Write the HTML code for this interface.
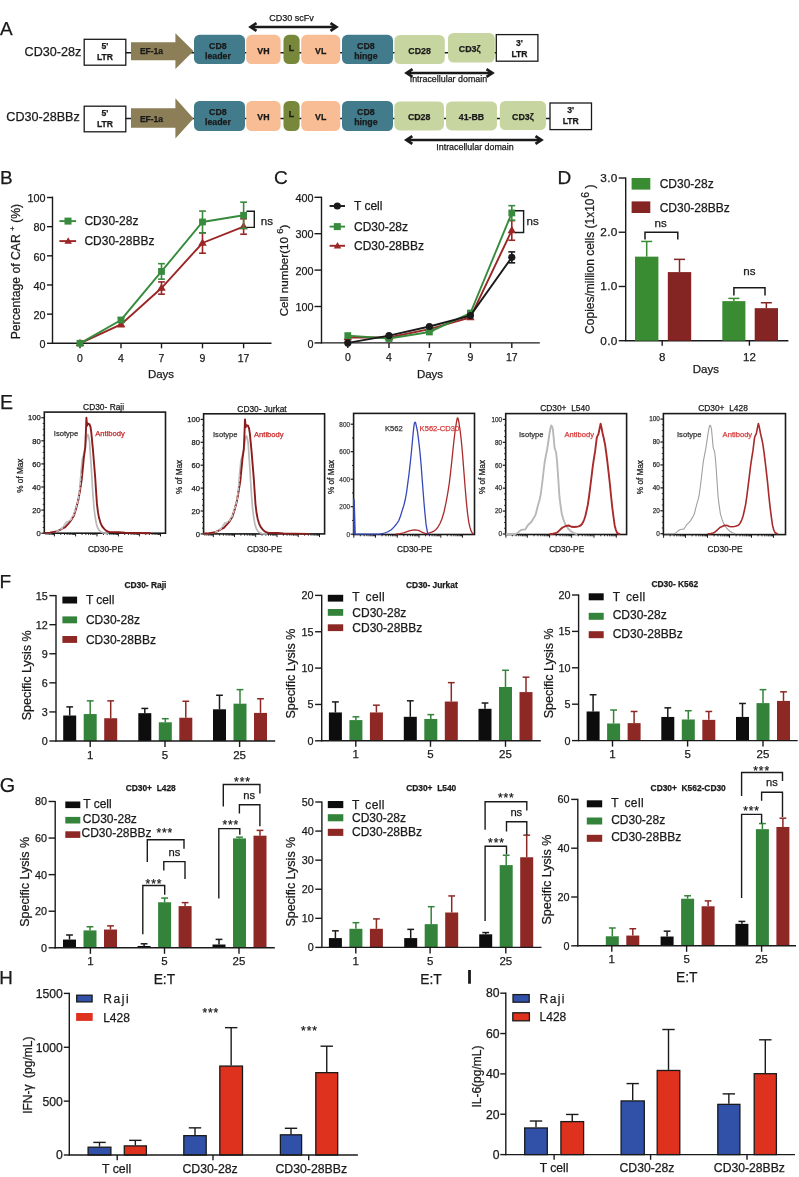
<!DOCTYPE html>
<html><head><meta charset="utf-8"><style>
html,body{margin:0;padding:0;background:#fff;}
svg{display:block;font-family:"Liberation Sans", sans-serif;-webkit-font-smoothing:antialiased;will-change:transform;}
</style></head><body>
<svg width="799" height="1177" viewBox="0 0 799 1177">
<rect width="799" height="1177" fill="#fff"/>
<text x="0.00" y="35.00" font-size="19" text-anchor="start" fill="#1a1a1a" stroke="#1a1a1a" stroke-width="0.25">A</text>
<text x="24.60" y="56.20" font-size="12.6" text-anchor="start" fill="#1a1a1a" stroke="#1a1a1a" stroke-width="0.25">CD30-28z</text>
<line x1="125.00" y1="52.80" x2="496.00" y2="52.80" stroke="#1a1a1a" stroke-width="1.5"/>
<rect x="84.20" y="39.30" width="41.60" height="25.90" fill="#fff" stroke="#1a1a1a" stroke-width="1.3"/>
<text x="105.00" y="49.05" font-size="8.6" text-anchor="middle" font-weight="bold" fill="#1a1a1a" stroke="#1a1a1a" stroke-width="0.25">5'</text>
<text x="105.00" y="60.05" font-size="8.6" text-anchor="middle" font-weight="bold" fill="#1a1a1a" stroke="#1a1a1a" stroke-width="0.25">LTR</text>
<path d="M131 42.30 L175.4 42.30 L175.4 33.30 L193.5 51.10 L175.4 68.90 L175.4 60.30 L131 60.30 Z" fill="#8c7e56" stroke="none" stroke-width="0"/>
<text x="151.50" y="54.40" font-size="8.5" text-anchor="middle" font-weight="bold" fill="#1a1a1a" stroke="#1a1a1a" stroke-width="0.25">EF-1a</text>
<rect x="194.00" y="34.80" width="51.00" height="29.30" fill="#417b8c" rx="5.5"/>
<text x="217.90" y="48.55" font-size="8.8" text-anchor="middle" font-weight="bold" fill="#1a1a1a" stroke="#1a1a1a" stroke-width="0.25">CD8</text>
<text x="217.90" y="58.85" font-size="8.8" text-anchor="middle" font-weight="bold" fill="#1a1a1a" stroke="#1a1a1a" stroke-width="0.25">leader</text>
<rect x="246.20" y="34.80" width="34.40" height="29.30" fill="#f8bd95" rx="5.5"/>
<text x="263.40" y="53.75" font-size="8.8" text-anchor="middle" font-weight="bold" fill="#1a1a1a" stroke="#1a1a1a" stroke-width="0.25">VH</text>
<rect x="283.50" y="34.80" width="16.10" height="29.30" fill="#77883b" rx="5.5"/>
<text x="291.55" y="50.75" font-size="8.8" text-anchor="middle" font-weight="bold" fill="#1a1a1a" stroke="#1a1a1a" stroke-width="0.25">L</text>
<rect x="301.20" y="34.80" width="39.00" height="29.30" fill="#f8bd95" rx="5.5"/>
<text x="320.70" y="53.75" font-size="8.8" text-anchor="middle" font-weight="bold" fill="#1a1a1a" stroke="#1a1a1a" stroke-width="0.25">VL</text>
<rect x="342.00" y="34.80" width="51.00" height="29.30" fill="#417b8c" rx="5.5"/>
<text x="365.90" y="48.55" font-size="8.8" text-anchor="middle" font-weight="bold" fill="#1a1a1a" stroke="#1a1a1a" stroke-width="0.25">CD8</text>
<text x="365.90" y="58.85" font-size="8.8" text-anchor="middle" font-weight="bold" fill="#1a1a1a" stroke="#1a1a1a" stroke-width="0.25">hinge</text>
<rect x="394.40" y="35.00" width="50.40" height="29.00" fill="#c7d6a1" rx="5.5"/>
<text x="419.60" y="53.80" font-size="8.8" text-anchor="middle" font-weight="bold" fill="#1a1a1a" stroke="#1a1a1a" stroke-width="0.25">CD28</text>
<rect x="448.00" y="33.00" width="46.80" height="29.60" fill="#c7d6a1" rx="5.5"/>
<text x="469.70" y="52.10" font-size="8.8" text-anchor="middle" font-weight="bold" fill="#1a1a1a" stroke="#1a1a1a" stroke-width="0.25">CD3ζ</text>
<rect x="496.30" y="34.60" width="41.60" height="26.60" fill="#fff" stroke="#1a1a1a" stroke-width="1.3"/>
<text x="519.50" y="46.10" font-size="8.6" text-anchor="middle" font-weight="bold" fill="#1a1a1a" stroke="#1a1a1a" stroke-width="0.25">3'</text>
<text x="519.50" y="57.10" font-size="8.6" text-anchor="middle" font-weight="bold" fill="#1a1a1a" stroke="#1a1a1a" stroke-width="0.25">LTR</text>
<line x1="252.00" y1="27.00" x2="335.00" y2="27.00" stroke="#1a1a1a" stroke-width="2.3"/>
<path d="M256.50 23.10 L250.60 27.00 L256.50 30.90" fill="none" stroke="#1a1a1a" stroke-width="2.7" stroke-linejoin="miter" stroke-linecap="butt"/>
<path d="M330.50 23.10 L336.40 27.00 L330.50 30.90" fill="none" stroke="#1a1a1a" stroke-width="2.7" stroke-linejoin="miter" stroke-linecap="butt"/>
<text x="291.50" y="20.70" font-size="9" text-anchor="middle" fill="#1a1a1a" stroke="#1a1a1a" stroke-width="0.25">CD30 scFv</text>
<line x1="408.00" y1="73.00" x2="491.00" y2="73.00" stroke="#1a1a1a" stroke-width="2.3"/>
<path d="M412.50 69.10 L406.60 73.00 L412.50 76.90" fill="none" stroke="#1a1a1a" stroke-width="2.7" stroke-linejoin="miter" stroke-linecap="butt"/>
<path d="M486.50 69.10 L492.40 73.00 L486.50 76.90" fill="none" stroke="#1a1a1a" stroke-width="2.7" stroke-linejoin="miter" stroke-linecap="butt"/>
<text x="448.40" y="82.20" font-size="8.9" text-anchor="middle" fill="#1a1a1a" stroke="#1a1a1a" stroke-width="0.25">Intracellular domain</text>
<text x="6.30" y="120.70" font-size="12.6" text-anchor="start" fill="#1a1a1a" stroke="#1a1a1a" stroke-width="0.25">CD30-28BBz</text>
<line x1="125.00" y1="118.50" x2="550.00" y2="118.50" stroke="#1a1a1a" stroke-width="1.5"/>
<rect x="84.20" y="106.20" width="41.60" height="25.60" fill="#fff" stroke="#1a1a1a" stroke-width="1.3"/>
<text x="105.00" y="115.80" font-size="8.6" text-anchor="middle" font-weight="bold" fill="#1a1a1a" stroke="#1a1a1a" stroke-width="0.25">5'</text>
<text x="105.00" y="126.80" font-size="8.6" text-anchor="middle" font-weight="bold" fill="#1a1a1a" stroke="#1a1a1a" stroke-width="0.25">LTR</text>
<path d="M131 108.20 L175.4 108.20 L175.4 98.30 L193.5 118.40 L175.4 138.50 L175.4 127.70 L131 127.70 Z" fill="#8c7e56" stroke="none" stroke-width="0"/>
<text x="151.50" y="121.70" font-size="8.5" text-anchor="middle" font-weight="bold" fill="#1a1a1a" stroke="#1a1a1a" stroke-width="0.25">EF-1a</text>
<rect x="194.00" y="101.00" width="51.00" height="30.00" fill="#417b8c" rx="5.5"/>
<text x="217.90" y="115.10" font-size="8.8" text-anchor="middle" font-weight="bold" fill="#1a1a1a" stroke="#1a1a1a" stroke-width="0.25">CD8</text>
<text x="217.90" y="125.40" font-size="8.8" text-anchor="middle" font-weight="bold" fill="#1a1a1a" stroke="#1a1a1a" stroke-width="0.25">leader</text>
<rect x="246.20" y="101.00" width="34.40" height="30.00" fill="#f8bd95" rx="5.5"/>
<text x="263.40" y="120.30" font-size="8.8" text-anchor="middle" font-weight="bold" fill="#1a1a1a" stroke="#1a1a1a" stroke-width="0.25">VH</text>
<rect x="283.50" y="101.00" width="16.10" height="30.00" fill="#77883b" rx="5.5"/>
<text x="291.55" y="117.30" font-size="8.8" text-anchor="middle" font-weight="bold" fill="#1a1a1a" stroke="#1a1a1a" stroke-width="0.25">L</text>
<rect x="301.20" y="101.00" width="39.00" height="30.00" fill="#f8bd95" rx="5.5"/>
<text x="320.70" y="120.30" font-size="8.8" text-anchor="middle" font-weight="bold" fill="#1a1a1a" stroke="#1a1a1a" stroke-width="0.25">VL</text>
<rect x="342.00" y="101.00" width="51.00" height="30.00" fill="#417b8c" rx="5.5"/>
<text x="365.90" y="115.10" font-size="8.8" text-anchor="middle" font-weight="bold" fill="#1a1a1a" stroke="#1a1a1a" stroke-width="0.25">CD8</text>
<text x="365.90" y="125.40" font-size="8.8" text-anchor="middle" font-weight="bold" fill="#1a1a1a" stroke="#1a1a1a" stroke-width="0.25">hinge</text>
<rect x="394.30" y="101.50" width="49.70" height="28.90" fill="#c7d6a1" rx="5.5"/>
<text x="419.15" y="120.25" font-size="8.8" text-anchor="middle" font-weight="bold" fill="#1a1a1a" stroke="#1a1a1a" stroke-width="0.25">CD28</text>
<rect x="446.00" y="101.50" width="51.00" height="28.90" fill="#c7d6a1" rx="5.5"/>
<text x="471.50" y="120.25" font-size="8.8" text-anchor="middle" font-weight="bold" fill="#1a1a1a" stroke="#1a1a1a" stroke-width="0.25">41-BB</text>
<rect x="499.80" y="101.00" width="46.20" height="29.00" fill="#c7d6a1" rx="5.5"/>
<text x="522.90" y="119.80" font-size="8.8" text-anchor="middle" font-weight="bold" fill="#1a1a1a" stroke="#1a1a1a" stroke-width="0.25">CD3ζ</text>
<rect x="550.00" y="103.00" width="41.50" height="26.60" fill="#fff" stroke="#1a1a1a" stroke-width="1.3"/>
<text x="570.75" y="113.10" font-size="8.6" text-anchor="middle" font-weight="bold" fill="#1a1a1a" stroke="#1a1a1a" stroke-width="0.25">3'</text>
<text x="570.75" y="124.10" font-size="8.6" text-anchor="middle" font-weight="bold" fill="#1a1a1a" stroke="#1a1a1a" stroke-width="0.25">LTR</text>
<line x1="407.80" y1="140.00" x2="540.00" y2="140.00" stroke="#1a1a1a" stroke-width="2.3"/>
<path d="M412.30 136.10 L406.40 140.00 L412.30 143.90" fill="none" stroke="#1a1a1a" stroke-width="2.7" stroke-linejoin="miter" stroke-linecap="butt"/>
<path d="M535.50 136.10 L541.40 140.00 L535.50 143.90" fill="none" stroke="#1a1a1a" stroke-width="2.7" stroke-linejoin="miter" stroke-linecap="butt"/>
<text x="475.00" y="149.80" font-size="8.9" text-anchor="middle" fill="#1a1a1a" stroke="#1a1a1a" stroke-width="0.25">Intracellular domain</text>
<text x="0.00" y="184.00" font-size="19" text-anchor="start" fill="#1a1a1a" stroke="#1a1a1a" stroke-width="0.25">B</text>
<line x1="52.50" y1="196.60" x2="52.50" y2="343.90" stroke="#1a1a1a" stroke-width="1.4"/>
<line x1="47.00" y1="343.30" x2="52.50" y2="343.30" stroke="#1a1a1a" stroke-width="1.4"/>
<text x="45.50" y="347.99" font-size="10.8" text-anchor="end" fill="#1a1a1a" stroke="#1a1a1a" stroke-width="0.25">0</text>
<line x1="47.00" y1="314.14" x2="52.50" y2="314.14" stroke="#1a1a1a" stroke-width="1.4"/>
<text x="45.50" y="318.83" font-size="10.8" text-anchor="end" fill="#1a1a1a" stroke="#1a1a1a" stroke-width="0.25">20</text>
<line x1="47.00" y1="284.98" x2="52.50" y2="284.98" stroke="#1a1a1a" stroke-width="1.4"/>
<text x="45.50" y="289.67" font-size="10.8" text-anchor="end" fill="#1a1a1a" stroke="#1a1a1a" stroke-width="0.25">40</text>
<line x1="47.00" y1="255.82" x2="52.50" y2="255.82" stroke="#1a1a1a" stroke-width="1.4"/>
<text x="45.50" y="260.51" font-size="10.8" text-anchor="end" fill="#1a1a1a" stroke="#1a1a1a" stroke-width="0.25">60</text>
<line x1="47.00" y1="226.66" x2="52.50" y2="226.66" stroke="#1a1a1a" stroke-width="1.4"/>
<text x="45.50" y="231.35" font-size="10.8" text-anchor="end" fill="#1a1a1a" stroke="#1a1a1a" stroke-width="0.25">80</text>
<line x1="47.00" y1="197.50" x2="52.50" y2="197.50" stroke="#1a1a1a" stroke-width="1.4"/>
<text x="45.50" y="202.19" font-size="10.8" text-anchor="end" fill="#1a1a1a" stroke="#1a1a1a" stroke-width="0.25">100</text>
<line x1="51.90" y1="343.30" x2="271.50" y2="343.30" stroke="#1a1a1a" stroke-width="1.4"/>
<line x1="80.00" y1="343.30" x2="80.00" y2="348.30" stroke="#1a1a1a" stroke-width="1.4"/>
<text x="80.00" y="361.80" font-size="10.5" text-anchor="middle" fill="#1a1a1a" stroke="#1a1a1a" stroke-width="0.25">0</text>
<line x1="121.00" y1="343.30" x2="121.00" y2="348.30" stroke="#1a1a1a" stroke-width="1.4"/>
<text x="121.00" y="361.80" font-size="10.5" text-anchor="middle" fill="#1a1a1a" stroke="#1a1a1a" stroke-width="0.25">4</text>
<line x1="161.50" y1="343.30" x2="161.50" y2="348.30" stroke="#1a1a1a" stroke-width="1.4"/>
<text x="161.50" y="361.80" font-size="10.5" text-anchor="middle" fill="#1a1a1a" stroke="#1a1a1a" stroke-width="0.25">7</text>
<line x1="202.50" y1="343.30" x2="202.50" y2="348.30" stroke="#1a1a1a" stroke-width="1.4"/>
<text x="202.50" y="361.80" font-size="10.5" text-anchor="middle" fill="#1a1a1a" stroke="#1a1a1a" stroke-width="0.25">9</text>
<line x1="243.60" y1="343.30" x2="243.60" y2="348.30" stroke="#1a1a1a" stroke-width="1.4"/>
<text x="243.60" y="361.80" font-size="10.5" text-anchor="middle" fill="#1a1a1a" stroke="#1a1a1a" stroke-width="0.25">17</text>
<text x="161.00" y="377.50" font-size="11.5" text-anchor="middle" fill="#1a1a1a" stroke="#1a1a1a" stroke-width="0.25">Days</text>
<text x="0" y="0" font-size="12.2" text-anchor="middle" fill="#1a1a1a" stroke="#1a1a1a" stroke-width="0.25" transform="translate(19.8 271.6) rotate(-90)" style="white-space:pre">Percentage of CAR <tspan font-size="8" dy="-5">+</tspan><tspan dy="5"> (%)</tspan></text>
<path d="M80.00 343.30 L121.00 324.35 L161.50 288.04 L202.50 242.99 L243.60 226.51" fill="none" stroke="#9a2626" stroke-width="1.9"/>
<line x1="121.00" y1="324.35" x2="121.00" y2="326.53" stroke="#9a2626" stroke-width="1.6"/>
<line x1="117.60" y1="326.53" x2="124.40" y2="326.53" stroke="#9a2626" stroke-width="1.6"/>
<line x1="121.00" y1="324.35" x2="121.00" y2="322.16" stroke="#9a2626" stroke-width="1.6"/>
<line x1="117.60" y1="322.16" x2="124.40" y2="322.16" stroke="#9a2626" stroke-width="1.6"/>
<line x1="161.50" y1="288.04" x2="161.50" y2="294.17" stroke="#9a2626" stroke-width="1.6"/>
<line x1="158.10" y1="294.17" x2="164.90" y2="294.17" stroke="#9a2626" stroke-width="1.6"/>
<line x1="161.50" y1="288.04" x2="161.50" y2="281.92" stroke="#9a2626" stroke-width="1.6"/>
<line x1="158.10" y1="281.92" x2="164.90" y2="281.92" stroke="#9a2626" stroke-width="1.6"/>
<line x1="202.50" y1="242.99" x2="202.50" y2="253.20" stroke="#9a2626" stroke-width="1.6"/>
<line x1="199.10" y1="253.20" x2="205.90" y2="253.20" stroke="#9a2626" stroke-width="1.6"/>
<line x1="202.50" y1="242.99" x2="202.50" y2="232.78" stroke="#9a2626" stroke-width="1.6"/>
<line x1="199.10" y1="232.78" x2="205.90" y2="232.78" stroke="#9a2626" stroke-width="1.6"/>
<line x1="243.60" y1="226.51" x2="243.60" y2="234.24" stroke="#9a2626" stroke-width="1.6"/>
<line x1="240.20" y1="234.24" x2="247.00" y2="234.24" stroke="#9a2626" stroke-width="1.6"/>
<line x1="243.60" y1="226.51" x2="243.60" y2="218.79" stroke="#9a2626" stroke-width="1.6"/>
<line x1="240.20" y1="218.79" x2="247.00" y2="218.79" stroke="#9a2626" stroke-width="1.6"/>
<path d="M80.00 338.72 L84.25 346.11 L75.75 346.11 Z" fill="#9a2626" stroke="none" stroke-width="0"/>
<path d="M121.00 319.76 L125.25 327.16 L116.75 327.16 Z" fill="#9a2626" stroke="none" stroke-width="0"/>
<path d="M161.50 283.46 L165.75 290.85 L157.25 290.85 Z" fill="#9a2626" stroke="none" stroke-width="0"/>
<path d="M202.50 238.40 L206.75 245.80 L198.25 245.80 Z" fill="#9a2626" stroke="none" stroke-width="0"/>
<path d="M243.60 221.93 L247.85 229.32 L239.35 229.32 Z" fill="#9a2626" stroke="none" stroke-width="0"/>
<path d="M80.00 343.30 L121.00 319.97 L161.50 271.42 L202.50 221.99 L243.60 215.29" fill="none" stroke="#388a3d" stroke-width="1.9"/>
<line x1="121.00" y1="319.97" x2="121.00" y2="322.16" stroke="#388a3d" stroke-width="1.6"/>
<line x1="117.60" y1="322.16" x2="124.40" y2="322.16" stroke="#388a3d" stroke-width="1.6"/>
<line x1="121.00" y1="319.97" x2="121.00" y2="317.79" stroke="#388a3d" stroke-width="1.6"/>
<line x1="117.60" y1="317.79" x2="124.40" y2="317.79" stroke="#388a3d" stroke-width="1.6"/>
<line x1="161.50" y1="271.42" x2="161.50" y2="279.15" stroke="#388a3d" stroke-width="1.6"/>
<line x1="158.10" y1="279.15" x2="164.90" y2="279.15" stroke="#388a3d" stroke-width="1.6"/>
<line x1="161.50" y1="271.42" x2="161.50" y2="263.69" stroke="#388a3d" stroke-width="1.6"/>
<line x1="158.10" y1="263.69" x2="164.90" y2="263.69" stroke="#388a3d" stroke-width="1.6"/>
<line x1="202.50" y1="221.99" x2="202.50" y2="232.93" stroke="#388a3d" stroke-width="1.6"/>
<line x1="199.10" y1="232.93" x2="205.90" y2="232.93" stroke="#388a3d" stroke-width="1.6"/>
<line x1="202.50" y1="221.99" x2="202.50" y2="211.06" stroke="#388a3d" stroke-width="1.6"/>
<line x1="199.10" y1="211.06" x2="205.90" y2="211.06" stroke="#388a3d" stroke-width="1.6"/>
<line x1="243.60" y1="215.29" x2="243.60" y2="228.41" stroke="#388a3d" stroke-width="1.6"/>
<line x1="240.20" y1="228.41" x2="247.00" y2="228.41" stroke="#388a3d" stroke-width="1.6"/>
<line x1="243.60" y1="215.29" x2="243.60" y2="202.17" stroke="#388a3d" stroke-width="1.6"/>
<line x1="240.20" y1="202.17" x2="247.00" y2="202.17" stroke="#388a3d" stroke-width="1.6"/>
<rect x="76.60" y="339.90" width="6.80" height="6.80" fill="#388a3d"/>
<rect x="117.60" y="316.57" width="6.80" height="6.80" fill="#388a3d"/>
<rect x="158.10" y="268.02" width="6.80" height="6.80" fill="#388a3d"/>
<rect x="199.10" y="218.59" width="6.80" height="6.80" fill="#388a3d"/>
<rect x="240.20" y="211.89" width="6.80" height="6.80" fill="#388a3d"/>
<path d="M246.5 211.3 L254.3 211.3 L254.3 227.4 L246.5 227.4" fill="none" stroke="#1a1a1a" stroke-width="1.4"/>
<text x="260.80" y="224.70" font-size="11.6" text-anchor="start" fill="#1a1a1a" stroke="#1a1a1a" stroke-width="0.25">ns</text>
<line x1="59.40" y1="221.10" x2="76.10" y2="221.10" stroke="#388a3d" stroke-width="1.9"/>
<rect x="64.50" y="217.60" width="7.00" height="7.00" fill="#388a3d"/>
<text x="84.40" y="225.30" font-size="12" text-anchor="start" fill="#1a1a1a" stroke="#1a1a1a" stroke-width="0.25">CD30-28z</text>
<line x1="59.40" y1="241.10" x2="76.10" y2="241.10" stroke="#9a2626" stroke-width="1.9"/>
<path d="M68.20 237.25 L71.95 243.78 L64.45 243.78 Z" fill="#9a2626" stroke="none" stroke-width="0"/>
<text x="84.40" y="245.30" font-size="12" text-anchor="start" fill="#1a1a1a" stroke="#1a1a1a" stroke-width="0.25">CD30-28BBz</text>
<text x="274.00" y="184.00" font-size="19" text-anchor="start" fill="#1a1a1a" stroke="#1a1a1a" stroke-width="0.25">C</text>
<line x1="321.50" y1="196.70" x2="321.50" y2="343.50" stroke="#1a1a1a" stroke-width="1.4"/>
<line x1="314.50" y1="342.90" x2="321.50" y2="342.90" stroke="#1a1a1a" stroke-width="1.4"/>
<text x="313.40" y="347.59" font-size="10.8" text-anchor="end" fill="#1a1a1a" stroke="#1a1a1a" stroke-width="0.25">0</text>
<line x1="314.50" y1="306.50" x2="321.50" y2="306.50" stroke="#1a1a1a" stroke-width="1.4"/>
<text x="313.40" y="311.19" font-size="10.8" text-anchor="end" fill="#1a1a1a" stroke="#1a1a1a" stroke-width="0.25">100</text>
<line x1="314.50" y1="270.10" x2="321.50" y2="270.10" stroke="#1a1a1a" stroke-width="1.4"/>
<text x="313.40" y="274.79" font-size="10.8" text-anchor="end" fill="#1a1a1a" stroke="#1a1a1a" stroke-width="0.25">200</text>
<line x1="314.50" y1="233.70" x2="321.50" y2="233.70" stroke="#1a1a1a" stroke-width="1.4"/>
<text x="313.40" y="238.39" font-size="10.8" text-anchor="end" fill="#1a1a1a" stroke="#1a1a1a" stroke-width="0.25">300</text>
<line x1="314.50" y1="197.30" x2="321.50" y2="197.30" stroke="#1a1a1a" stroke-width="1.4"/>
<text x="313.40" y="201.99" font-size="10.8" text-anchor="end" fill="#1a1a1a" stroke="#1a1a1a" stroke-width="0.25">400</text>
<line x1="320.90" y1="342.90" x2="539.80" y2="342.90" stroke="#1a1a1a" stroke-width="1.4"/>
<line x1="347.80" y1="342.90" x2="347.80" y2="347.90" stroke="#1a1a1a" stroke-width="1.4"/>
<text x="347.80" y="361.40" font-size="10.5" text-anchor="middle" fill="#1a1a1a" stroke="#1a1a1a" stroke-width="0.25">0</text>
<line x1="389.00" y1="342.90" x2="389.00" y2="347.90" stroke="#1a1a1a" stroke-width="1.4"/>
<text x="389.00" y="361.40" font-size="10.5" text-anchor="middle" fill="#1a1a1a" stroke="#1a1a1a" stroke-width="0.25">4</text>
<line x1="429.40" y1="342.90" x2="429.40" y2="347.90" stroke="#1a1a1a" stroke-width="1.4"/>
<text x="429.40" y="361.40" font-size="10.5" text-anchor="middle" fill="#1a1a1a" stroke="#1a1a1a" stroke-width="0.25">7</text>
<line x1="470.40" y1="342.90" x2="470.40" y2="347.90" stroke="#1a1a1a" stroke-width="1.4"/>
<text x="470.40" y="361.40" font-size="10.5" text-anchor="middle" fill="#1a1a1a" stroke="#1a1a1a" stroke-width="0.25">9</text>
<line x1="511.80" y1="342.90" x2="511.80" y2="347.90" stroke="#1a1a1a" stroke-width="1.4"/>
<text x="511.80" y="361.40" font-size="10.5" text-anchor="middle" fill="#1a1a1a" stroke="#1a1a1a" stroke-width="0.25">17</text>
<text x="430.00" y="377.50" font-size="11.5" text-anchor="middle" fill="#1a1a1a" stroke="#1a1a1a" stroke-width="0.25">Days</text>
<text x="0" y="0" font-size="11.6" text-anchor="middle" fill="#1a1a1a" stroke="#1a1a1a" stroke-width="0.25" transform="translate(288 270.5) rotate(-90)" style="white-space:pre">Cell number(10 <tspan font-size="9.5" dy="-5.5">6</tspan><tspan dy="5.5">)</tspan></text>
<path d="M347.80 337.44 L389.00 337.44 L429.40 329.07 L470.40 317.42 L511.80 230.42" fill="none" stroke="#9a2626" stroke-width="1.9"/>
<line x1="511.80" y1="230.42" x2="511.80" y2="240.25" stroke="#9a2626" stroke-width="1.6"/>
<line x1="508.40" y1="240.25" x2="515.20" y2="240.25" stroke="#9a2626" stroke-width="1.6"/>
<line x1="511.80" y1="230.42" x2="511.80" y2="220.60" stroke="#9a2626" stroke-width="1.6"/>
<line x1="508.40" y1="220.60" x2="515.20" y2="220.60" stroke="#9a2626" stroke-width="1.6"/>
<path d="M347.80 332.86 L352.05 340.25 L343.55 340.25 Z" fill="#9a2626" stroke="none" stroke-width="0"/>
<path d="M389.00 332.86 L393.25 340.25 L384.75 340.25 Z" fill="#9a2626" stroke="none" stroke-width="0"/>
<path d="M429.40 324.48 L433.65 331.88 L425.15 331.88 Z" fill="#9a2626" stroke="none" stroke-width="0"/>
<path d="M470.40 312.84 L474.65 320.23 L466.15 320.23 Z" fill="#9a2626" stroke="none" stroke-width="0"/>
<path d="M511.80 225.84 L516.05 233.23 L507.55 233.23 Z" fill="#9a2626" stroke="none" stroke-width="0"/>
<path d="M347.80 335.62 L389.00 338.53 L429.40 331.98 L470.40 313.05 L511.80 212.95" fill="none" stroke="#388a3d" stroke-width="1.9"/>
<line x1="511.80" y1="212.95" x2="511.80" y2="220.23" stroke="#388a3d" stroke-width="1.6"/>
<line x1="508.40" y1="220.23" x2="515.20" y2="220.23" stroke="#388a3d" stroke-width="1.6"/>
<line x1="511.80" y1="212.95" x2="511.80" y2="205.67" stroke="#388a3d" stroke-width="1.6"/>
<line x1="508.40" y1="205.67" x2="515.20" y2="205.67" stroke="#388a3d" stroke-width="1.6"/>
<rect x="344.40" y="332.22" width="6.80" height="6.80" fill="#388a3d"/>
<rect x="385.60" y="335.13" width="6.80" height="6.80" fill="#388a3d"/>
<rect x="426.00" y="328.58" width="6.80" height="6.80" fill="#388a3d"/>
<rect x="467.00" y="309.65" width="6.80" height="6.80" fill="#388a3d"/>
<rect x="508.40" y="209.55" width="6.80" height="6.80" fill="#388a3d"/>
<path d="M347.80 342.90 L389.00 335.62 L429.40 326.52 L470.40 315.60 L511.80 257.36" fill="none" stroke="#1a1a1a" stroke-width="1.9"/>
<line x1="511.80" y1="257.36" x2="511.80" y2="262.82" stroke="#1a1a1a" stroke-width="1.6"/>
<line x1="508.40" y1="262.82" x2="515.20" y2="262.82" stroke="#1a1a1a" stroke-width="1.6"/>
<line x1="511.80" y1="257.36" x2="511.80" y2="251.90" stroke="#1a1a1a" stroke-width="1.6"/>
<line x1="508.40" y1="251.90" x2="515.20" y2="251.90" stroke="#1a1a1a" stroke-width="1.6"/>
<circle cx="347.80" cy="342.90" r="3.6" fill="#1a1a1a"/>
<circle cx="389.00" cy="335.62" r="3.6" fill="#1a1a1a"/>
<circle cx="429.40" cy="326.52" r="3.6" fill="#1a1a1a"/>
<circle cx="470.40" cy="315.60" r="3.6" fill="#1a1a1a"/>
<circle cx="511.80" cy="257.36" r="3.6" fill="#1a1a1a"/>
<path d="M515 210.8 L523.6 210.8 L523.6 232.5 L515 232.5" fill="none" stroke="#1a1a1a" stroke-width="1.4"/>
<text x="526.60" y="225.00" font-size="11.6" text-anchor="start" fill="#1a1a1a" stroke="#1a1a1a" stroke-width="0.25">ns</text>
<line x1="329.60" y1="206.00" x2="345.00" y2="206.00" stroke="#1a1a1a" stroke-width="1.9"/>
<circle cx="337.30" cy="206.00" r="3.6" fill="#1a1a1a"/>
<text x="354.00" y="210.30" font-size="12" text-anchor="start" fill="#1a1a1a" stroke="#1a1a1a" stroke-width="0.25">T cell</text>
<line x1="329.60" y1="226.60" x2="345.00" y2="226.60" stroke="#388a3d" stroke-width="1.9"/>
<rect x="333.80" y="223.10" width="7.00" height="7.00" fill="#388a3d"/>
<text x="354.00" y="230.90" font-size="12" text-anchor="start" fill="#1a1a1a" stroke="#1a1a1a" stroke-width="0.25">CD30-28z</text>
<line x1="329.60" y1="245.80" x2="345.00" y2="245.80" stroke="#9a2626" stroke-width="1.9"/>
<path d="M337.50 241.95 L341.25 248.48 L333.75 248.48 Z" fill="#9a2626" stroke="none" stroke-width="0"/>
<text x="354.00" y="250.10" font-size="12" text-anchor="start" fill="#1a1a1a" stroke="#1a1a1a" stroke-width="0.25">CD30-28BBz</text>
<text x="557.50" y="184.00" font-size="19" text-anchor="start" fill="#1a1a1a" stroke="#1a1a1a" stroke-width="0.25">D</text>
<line x1="625.70" y1="177.40" x2="625.70" y2="341.30" stroke="#1a1a1a" stroke-width="1.4"/>
<line x1="618.70" y1="340.70" x2="625.70" y2="340.70" stroke="#1a1a1a" stroke-width="1.4"/>
<text x="617.50" y="344.65" font-size="11.8" text-anchor="end" fill="#1a1a1a" stroke="#1a1a1a" stroke-width="0.25" letter-spacing="0.25">0.0</text>
<line x1="618.70" y1="286.47" x2="625.70" y2="286.47" stroke="#1a1a1a" stroke-width="1.4"/>
<text x="617.50" y="290.42" font-size="11.8" text-anchor="end" fill="#1a1a1a" stroke="#1a1a1a" stroke-width="0.25" letter-spacing="0.25">1.0</text>
<line x1="618.70" y1="232.24" x2="625.70" y2="232.24" stroke="#1a1a1a" stroke-width="1.4"/>
<text x="617.50" y="236.19" font-size="11.8" text-anchor="end" fill="#1a1a1a" stroke="#1a1a1a" stroke-width="0.25" letter-spacing="0.25">2.0</text>
<line x1="618.70" y1="178.01" x2="625.70" y2="178.01" stroke="#1a1a1a" stroke-width="1.4"/>
<text x="617.50" y="181.96" font-size="11.8" text-anchor="end" fill="#1a1a1a" stroke="#1a1a1a" stroke-width="0.25" letter-spacing="0.25">3.0</text>
<line x1="625.10" y1="340.70" x2="788.40" y2="340.70" stroke="#1a1a1a" stroke-width="1.4"/>
<line x1="662.20" y1="340.70" x2="662.20" y2="345.70" stroke="#1a1a1a" stroke-width="1.4"/>
<text x="662.20" y="361.20" font-size="11.5" text-anchor="middle" fill="#1a1a1a" stroke="#1a1a1a" stroke-width="0.25">8</text>
<line x1="749.40" y1="340.70" x2="749.40" y2="345.70" stroke="#1a1a1a" stroke-width="1.4"/>
<text x="749.40" y="361.20" font-size="11.5" text-anchor="middle" fill="#1a1a1a" stroke="#1a1a1a" stroke-width="0.25">12</text>
<text x="705.80" y="372.50" font-size="11.5" text-anchor="middle" fill="#1a1a1a" stroke="#1a1a1a" stroke-width="0.25">Days</text>
<text x="0" y="0" font-size="12" text-anchor="middle" fill="#1a1a1a" stroke="#1a1a1a" stroke-width="0.25" transform="translate(594 259.2) rotate(-90)" style="white-space:pre">Copies/million cells (1x10<tspan font-size="10.5" dx="0.8" dy="-5">6</tspan><tspan dy="5"> )</tspan></text>
<line x1="646.70" y1="256.64" x2="646.70" y2="241.46" stroke="#3a8c33" stroke-width="1.5"/>
<line x1="641.20" y1="241.46" x2="652.20" y2="241.46" stroke="#3a8c33" stroke-width="1.5"/>
<rect x="635.00" y="256.64" width="23.40" height="84.06" fill="#3a8c33"/>
<line x1="679.50" y1="272.10" x2="679.50" y2="259.36" stroke="#842423" stroke-width="1.5"/>
<line x1="674.00" y1="259.36" x2="685.00" y2="259.36" stroke="#842423" stroke-width="1.5"/>
<rect x="667.80" y="272.10" width="23.40" height="68.60" fill="#842423"/>
<line x1="733.85" y1="301.11" x2="733.85" y2="298.40" stroke="#3a8c33" stroke-width="1.5"/>
<line x1="728.35" y1="298.40" x2="739.35" y2="298.40" stroke="#3a8c33" stroke-width="1.5"/>
<rect x="722.30" y="301.11" width="23.10" height="39.59" fill="#3a8c33"/>
<line x1="766.35" y1="308.16" x2="766.35" y2="302.74" stroke="#842423" stroke-width="1.5"/>
<line x1="760.85" y1="302.74" x2="771.85" y2="302.74" stroke="#842423" stroke-width="1.5"/>
<rect x="754.70" y="308.16" width="23.30" height="32.54" fill="#842423"/>
<path d="M645 239.5 L645 232.3 L677.8 232.3 L677.8 239.5" fill="none" stroke="#1a1a1a" stroke-width="1.5"/>
<text x="660.60" y="226.60" font-size="11.6" text-anchor="middle" fill="#1a1a1a" stroke="#1a1a1a" stroke-width="0.25">ns</text>
<path d="M733.9 295.6 L733.9 287.8 L765 287.8 L765 295.6" fill="none" stroke="#1a1a1a" stroke-width="1.5"/>
<text x="749.40" y="274.90" font-size="11.6" text-anchor="middle" fill="#1a1a1a" stroke="#1a1a1a" stroke-width="0.25">ns</text>
<rect x="631.60" y="178.00" width="18.70" height="11.60" fill="#3a8c33"/>
<text x="659.70" y="188.20" font-size="12" text-anchor="start" fill="#1a1a1a" stroke="#1a1a1a" stroke-width="0.25">CD30-28z</text>
<rect x="631.60" y="201.40" width="18.70" height="11.60" fill="#842423"/>
<text x="659.70" y="211.60" font-size="12" text-anchor="start" fill="#1a1a1a" stroke="#1a1a1a" stroke-width="0.25">CD30-28BBz</text>
<text x="0.00" y="409.00" font-size="19.5" text-anchor="start" fill="#1a1a1a" stroke="#1a1a1a" stroke-width="0.25">E</text>
<rect x="44.30" y="412.10" width="121.20" height="121.10" fill="none" stroke="#1a1a1a" stroke-width="1.6"/>
<line x1="41.30" y1="533.20" x2="44.30" y2="533.20" stroke="#1a1a1a" stroke-width="1.2"/>
<text x="40.70" y="535.94" font-size="7.6" text-anchor="end" fill="#1a1a1a" stroke="#1a1a1a" stroke-width="0.25">0</text>
<line x1="41.30" y1="510.10" x2="44.30" y2="510.10" stroke="#1a1a1a" stroke-width="1.2"/>
<text x="40.70" y="512.84" font-size="7.6" text-anchor="end" fill="#1a1a1a" stroke="#1a1a1a" stroke-width="0.25">20</text>
<line x1="41.30" y1="487.00" x2="44.30" y2="487.00" stroke="#1a1a1a" stroke-width="1.2"/>
<text x="40.70" y="489.74" font-size="7.6" text-anchor="end" fill="#1a1a1a" stroke="#1a1a1a" stroke-width="0.25">40</text>
<line x1="41.30" y1="463.90" x2="44.30" y2="463.90" stroke="#1a1a1a" stroke-width="1.2"/>
<text x="40.70" y="466.64" font-size="7.6" text-anchor="end" fill="#1a1a1a" stroke="#1a1a1a" stroke-width="0.25">60</text>
<line x1="41.30" y1="440.80" x2="44.30" y2="440.80" stroke="#1a1a1a" stroke-width="1.2"/>
<text x="40.70" y="443.54" font-size="7.6" text-anchor="end" fill="#1a1a1a" stroke="#1a1a1a" stroke-width="0.25">80</text>
<line x1="41.30" y1="417.70" x2="44.30" y2="417.70" stroke="#1a1a1a" stroke-width="1.2"/>
<text x="40.70" y="420.44" font-size="7.6" text-anchor="end" fill="#1a1a1a" stroke="#1a1a1a" stroke-width="0.25">100</text>
<line x1="42.70" y1="527.43" x2="44.30" y2="527.43" stroke="#1a1a1a" stroke-width="0.9"/>
<line x1="42.70" y1="521.65" x2="44.30" y2="521.65" stroke="#1a1a1a" stroke-width="0.9"/>
<line x1="42.70" y1="515.88" x2="44.30" y2="515.88" stroke="#1a1a1a" stroke-width="0.9"/>
<line x1="42.70" y1="504.33" x2="44.30" y2="504.33" stroke="#1a1a1a" stroke-width="0.9"/>
<line x1="42.70" y1="498.55" x2="44.30" y2="498.55" stroke="#1a1a1a" stroke-width="0.9"/>
<line x1="42.70" y1="492.78" x2="44.30" y2="492.78" stroke="#1a1a1a" stroke-width="0.9"/>
<line x1="42.70" y1="481.23" x2="44.30" y2="481.23" stroke="#1a1a1a" stroke-width="0.9"/>
<line x1="42.70" y1="475.45" x2="44.30" y2="475.45" stroke="#1a1a1a" stroke-width="0.9"/>
<line x1="42.70" y1="469.68" x2="44.30" y2="469.68" stroke="#1a1a1a" stroke-width="0.9"/>
<line x1="42.70" y1="458.13" x2="44.30" y2="458.13" stroke="#1a1a1a" stroke-width="0.9"/>
<line x1="42.70" y1="452.35" x2="44.30" y2="452.35" stroke="#1a1a1a" stroke-width="0.9"/>
<line x1="42.70" y1="446.58" x2="44.30" y2="446.58" stroke="#1a1a1a" stroke-width="0.9"/>
<line x1="42.70" y1="435.03" x2="44.30" y2="435.03" stroke="#1a1a1a" stroke-width="0.9"/>
<line x1="42.70" y1="429.25" x2="44.30" y2="429.25" stroke="#1a1a1a" stroke-width="0.9"/>
<line x1="42.70" y1="423.48" x2="44.30" y2="423.48" stroke="#1a1a1a" stroke-width="0.9"/>
<line x1="54.40" y1="533.20" x2="54.40" y2="536.40" stroke="#1a1a1a" stroke-width="1.0"/>
<line x1="60.78" y1="533.20" x2="60.78" y2="535.00" stroke="#1a1a1a" stroke-width="0.9"/>
<line x1="64.51" y1="533.20" x2="64.51" y2="535.00" stroke="#1a1a1a" stroke-width="0.9"/>
<line x1="67.16" y1="533.20" x2="67.16" y2="535.00" stroke="#1a1a1a" stroke-width="0.9"/>
<line x1="69.22" y1="533.20" x2="69.22" y2="535.00" stroke="#1a1a1a" stroke-width="0.9"/>
<line x1="70.90" y1="533.20" x2="70.90" y2="535.00" stroke="#1a1a1a" stroke-width="0.9"/>
<line x1="72.32" y1="533.20" x2="72.32" y2="535.00" stroke="#1a1a1a" stroke-width="0.9"/>
<line x1="73.55" y1="533.20" x2="73.55" y2="535.00" stroke="#1a1a1a" stroke-width="0.9"/>
<line x1="74.63" y1="533.20" x2="74.63" y2="535.00" stroke="#1a1a1a" stroke-width="0.9"/>
<line x1="75.60" y1="533.20" x2="75.60" y2="536.40" stroke="#1a1a1a" stroke-width="1.0"/>
<line x1="82.04" y1="533.20" x2="82.04" y2="535.00" stroke="#1a1a1a" stroke-width="0.9"/>
<line x1="85.81" y1="533.20" x2="85.81" y2="535.00" stroke="#1a1a1a" stroke-width="0.9"/>
<line x1="88.48" y1="533.20" x2="88.48" y2="535.00" stroke="#1a1a1a" stroke-width="0.9"/>
<line x1="90.56" y1="533.20" x2="90.56" y2="535.00" stroke="#1a1a1a" stroke-width="0.9"/>
<line x1="92.25" y1="533.20" x2="92.25" y2="535.00" stroke="#1a1a1a" stroke-width="0.9"/>
<line x1="93.69" y1="533.20" x2="93.69" y2="535.00" stroke="#1a1a1a" stroke-width="0.9"/>
<line x1="94.93" y1="533.20" x2="94.93" y2="535.00" stroke="#1a1a1a" stroke-width="0.9"/>
<line x1="96.02" y1="533.20" x2="96.02" y2="535.00" stroke="#1a1a1a" stroke-width="0.9"/>
<line x1="97.00" y1="533.20" x2="97.00" y2="536.40" stroke="#1a1a1a" stroke-width="1.0"/>
<line x1="103.44" y1="533.20" x2="103.44" y2="535.00" stroke="#1a1a1a" stroke-width="0.9"/>
<line x1="107.21" y1="533.20" x2="107.21" y2="535.00" stroke="#1a1a1a" stroke-width="0.9"/>
<line x1="109.88" y1="533.20" x2="109.88" y2="535.00" stroke="#1a1a1a" stroke-width="0.9"/>
<line x1="111.96" y1="533.20" x2="111.96" y2="535.00" stroke="#1a1a1a" stroke-width="0.9"/>
<line x1="113.65" y1="533.20" x2="113.65" y2="535.00" stroke="#1a1a1a" stroke-width="0.9"/>
<line x1="115.09" y1="533.20" x2="115.09" y2="535.00" stroke="#1a1a1a" stroke-width="0.9"/>
<line x1="116.33" y1="533.20" x2="116.33" y2="535.00" stroke="#1a1a1a" stroke-width="0.9"/>
<line x1="117.42" y1="533.20" x2="117.42" y2="535.00" stroke="#1a1a1a" stroke-width="0.9"/>
<line x1="118.40" y1="533.20" x2="118.40" y2="536.40" stroke="#1a1a1a" stroke-width="1.0"/>
<line x1="124.72" y1="533.20" x2="124.72" y2="535.00" stroke="#1a1a1a" stroke-width="0.9"/>
<line x1="128.42" y1="533.20" x2="128.42" y2="535.00" stroke="#1a1a1a" stroke-width="0.9"/>
<line x1="131.04" y1="533.20" x2="131.04" y2="535.00" stroke="#1a1a1a" stroke-width="0.9"/>
<line x1="133.08" y1="533.20" x2="133.08" y2="535.00" stroke="#1a1a1a" stroke-width="0.9"/>
<line x1="134.74" y1="533.20" x2="134.74" y2="535.00" stroke="#1a1a1a" stroke-width="0.9"/>
<line x1="136.15" y1="533.20" x2="136.15" y2="535.00" stroke="#1a1a1a" stroke-width="0.9"/>
<line x1="137.36" y1="533.20" x2="137.36" y2="535.00" stroke="#1a1a1a" stroke-width="0.9"/>
<line x1="138.44" y1="533.20" x2="138.44" y2="535.00" stroke="#1a1a1a" stroke-width="0.9"/>
<line x1="139.40" y1="533.20" x2="139.40" y2="536.40" stroke="#1a1a1a" stroke-width="1.0"/>
<line x1="145.75" y1="533.20" x2="145.75" y2="535.00" stroke="#1a1a1a" stroke-width="0.9"/>
<line x1="149.47" y1="533.20" x2="149.47" y2="535.00" stroke="#1a1a1a" stroke-width="0.9"/>
<line x1="152.10" y1="533.20" x2="152.10" y2="535.00" stroke="#1a1a1a" stroke-width="0.9"/>
<line x1="154.15" y1="533.20" x2="154.15" y2="535.00" stroke="#1a1a1a" stroke-width="0.9"/>
<line x1="155.82" y1="533.20" x2="155.82" y2="535.00" stroke="#1a1a1a" stroke-width="0.9"/>
<line x1="157.23" y1="533.20" x2="157.23" y2="535.00" stroke="#1a1a1a" stroke-width="0.9"/>
<line x1="158.46" y1="533.20" x2="158.46" y2="535.00" stroke="#1a1a1a" stroke-width="0.9"/>
<line x1="159.53" y1="533.20" x2="159.53" y2="535.00" stroke="#1a1a1a" stroke-width="0.9"/>
<line x1="160.50" y1="533.20" x2="160.50" y2="536.40" stroke="#1a1a1a" stroke-width="1.0"/>
<line x1="45.96" y1="533.20" x2="45.96" y2="535.00" stroke="#1a1a1a" stroke-width="0.9"/>
<line x1="48.02" y1="533.20" x2="48.02" y2="535.00" stroke="#1a1a1a" stroke-width="0.9"/>
<line x1="49.70" y1="533.20" x2="49.70" y2="535.00" stroke="#1a1a1a" stroke-width="0.9"/>
<line x1="51.12" y1="533.20" x2="51.12" y2="535.00" stroke="#1a1a1a" stroke-width="0.9"/>
<line x1="52.35" y1="533.20" x2="52.35" y2="535.00" stroke="#1a1a1a" stroke-width="0.9"/>
<line x1="53.43" y1="533.20" x2="53.43" y2="535.00" stroke="#1a1a1a" stroke-width="0.9"/>
<text x="103.60" y="409.90" font-size="8.4" text-anchor="middle" fill="#1a1a1a" stroke="#1a1a1a" stroke-width="0.25" style="white-space:pre">CD30- Raji</text>
<text x="105.40" y="551.80" font-size="8.3" text-anchor="middle" fill="#1a1a1a" stroke="#1a1a1a" stroke-width="0.25">CD30-PE</text>
<text x="0" y="0" font-size="8.2" text-anchor="middle" fill="#1a1a1a" stroke="#1a1a1a" stroke-width="0.25" transform="translate(22.80 475.65) rotate(-90)">% of Max</text>
<path d="M45.50 532.85 L50.00 532.62 L56.90 531.35 L60.00 529.74 L62.50 527.89 L64.50 525.12 L66.20 522.23 L68.00 521.65 L70.00 521.07 L71.50 518.76 L73.80 514.72 L76.00 507.79 L78.30 499.71 L80.00 487.00 L81.00 473.14 L82.30 459.28 L83.50 455.24 L85.00 448.89 L86.20 440.80 L87.20 435.03 L87.90 434.45 L88.80 437.34 L89.60 441.96 L90.40 454.66 L91.30 467.37 L92.10 481.23 L92.90 493.93 L94.00 507.79 L95.20 517.03 L96.30 523.38 L97.40 527.19 L99.00 530.20 L100.80 531.70 L103.00 532.85 L108.00 533.20" fill="none" stroke="#b8b8b8" stroke-width="1.7" stroke-linejoin="round" stroke-linecap="round"/>
<path d="M45.50 532.85 L50.00 532.62 L56.90 531.35 L60.00 529.97 L62.50 528.35 L65.00 527.43 L68.20 523.84 L71.00 520.50 L73.80 515.88 L76.00 508.95 L78.30 500.05 L80.00 490.47 L81.70 479.72 L83.90 457.32 L85.20 447.73 L85.90 431.56 L86.40 417.70 L87.10 425.79 L87.60 423.48 L89.40 424.05 L90.50 426.94 L91.30 432.37 L92.10 440.80 L92.90 449.35 L94.00 462.75 L95.20 477.53 L96.10 491.62 L96.90 503.40 L98.00 512.41 L99.10 518.07 L100.50 522.81 L102.00 526.04 L104.00 528.58 L106.00 530.66 L107.60 531.47 L110.00 532.16 L118.80 532.28 L125.00 532.74 L135.00 532.97 L150.00 533.20" fill="none" stroke="#8b1c1c" stroke-width="1.9" stroke-linejoin="round" stroke-linecap="round"/>
<path d="M56.90 531.35 L60.00 529.74 L62.50 527.89 L64.50 525.12 L66.20 522.23 L68.00 521.65 L70.00 521.07 L71.50 518.76 L73.80 514.72 L76.00 507.79 L78.30 499.71 L80.00 487.00 L81.00 473.14" fill="none" stroke="#c4c4c4" stroke-width="1.5" stroke-linejoin="round" stroke-linecap="round" stroke-dasharray="2.2 2.4"/>
<text x="53.80" y="435.80" font-size="7.6" text-anchor="start" fill="#333" stroke="#333" stroke-width="0.25">Isotype</text>
<text x="95.20" y="435.60" font-size="7.6" text-anchor="start" fill="#c62828" stroke="#c62828" stroke-width="0.25">Antibody</text>
<rect x="203.60" y="413.80" width="121.00" height="120.10" fill="none" stroke="#1a1a1a" stroke-width="1.6"/>
<line x1="200.60" y1="533.90" x2="203.60" y2="533.90" stroke="#1a1a1a" stroke-width="1.2"/>
<text x="200.00" y="536.64" font-size="7.6" text-anchor="end" fill="#1a1a1a" stroke="#1a1a1a" stroke-width="0.25">0</text>
<line x1="200.60" y1="511.00" x2="203.60" y2="511.00" stroke="#1a1a1a" stroke-width="1.2"/>
<text x="200.00" y="513.74" font-size="7.6" text-anchor="end" fill="#1a1a1a" stroke="#1a1a1a" stroke-width="0.25">20</text>
<line x1="200.60" y1="488.10" x2="203.60" y2="488.10" stroke="#1a1a1a" stroke-width="1.2"/>
<text x="200.00" y="490.84" font-size="7.6" text-anchor="end" fill="#1a1a1a" stroke="#1a1a1a" stroke-width="0.25">40</text>
<line x1="200.60" y1="465.20" x2="203.60" y2="465.20" stroke="#1a1a1a" stroke-width="1.2"/>
<text x="200.00" y="467.94" font-size="7.6" text-anchor="end" fill="#1a1a1a" stroke="#1a1a1a" stroke-width="0.25">60</text>
<line x1="200.60" y1="442.30" x2="203.60" y2="442.30" stroke="#1a1a1a" stroke-width="1.2"/>
<text x="200.00" y="445.04" font-size="7.6" text-anchor="end" fill="#1a1a1a" stroke="#1a1a1a" stroke-width="0.25">80</text>
<line x1="200.60" y1="419.40" x2="203.60" y2="419.40" stroke="#1a1a1a" stroke-width="1.2"/>
<text x="200.00" y="422.14" font-size="7.6" text-anchor="end" fill="#1a1a1a" stroke="#1a1a1a" stroke-width="0.25">100</text>
<line x1="202.00" y1="528.17" x2="203.60" y2="528.17" stroke="#1a1a1a" stroke-width="0.9"/>
<line x1="202.00" y1="522.45" x2="203.60" y2="522.45" stroke="#1a1a1a" stroke-width="0.9"/>
<line x1="202.00" y1="516.73" x2="203.60" y2="516.73" stroke="#1a1a1a" stroke-width="0.9"/>
<line x1="202.00" y1="505.27" x2="203.60" y2="505.27" stroke="#1a1a1a" stroke-width="0.9"/>
<line x1="202.00" y1="499.55" x2="203.60" y2="499.55" stroke="#1a1a1a" stroke-width="0.9"/>
<line x1="202.00" y1="493.82" x2="203.60" y2="493.82" stroke="#1a1a1a" stroke-width="0.9"/>
<line x1="202.00" y1="482.38" x2="203.60" y2="482.38" stroke="#1a1a1a" stroke-width="0.9"/>
<line x1="202.00" y1="476.65" x2="203.60" y2="476.65" stroke="#1a1a1a" stroke-width="0.9"/>
<line x1="202.00" y1="470.92" x2="203.60" y2="470.92" stroke="#1a1a1a" stroke-width="0.9"/>
<line x1="202.00" y1="459.47" x2="203.60" y2="459.47" stroke="#1a1a1a" stroke-width="0.9"/>
<line x1="202.00" y1="453.75" x2="203.60" y2="453.75" stroke="#1a1a1a" stroke-width="0.9"/>
<line x1="202.00" y1="448.02" x2="203.60" y2="448.02" stroke="#1a1a1a" stroke-width="0.9"/>
<line x1="202.00" y1="436.57" x2="203.60" y2="436.57" stroke="#1a1a1a" stroke-width="0.9"/>
<line x1="202.00" y1="430.85" x2="203.60" y2="430.85" stroke="#1a1a1a" stroke-width="0.9"/>
<line x1="202.00" y1="425.12" x2="203.60" y2="425.12" stroke="#1a1a1a" stroke-width="0.9"/>
<line x1="213.30" y1="533.90" x2="213.30" y2="537.10" stroke="#1a1a1a" stroke-width="1.0"/>
<line x1="219.68" y1="533.90" x2="219.68" y2="535.70" stroke="#1a1a1a" stroke-width="0.9"/>
<line x1="223.41" y1="533.90" x2="223.41" y2="535.70" stroke="#1a1a1a" stroke-width="0.9"/>
<line x1="226.06" y1="533.90" x2="226.06" y2="535.70" stroke="#1a1a1a" stroke-width="0.9"/>
<line x1="228.12" y1="533.90" x2="228.12" y2="535.70" stroke="#1a1a1a" stroke-width="0.9"/>
<line x1="229.80" y1="533.90" x2="229.80" y2="535.70" stroke="#1a1a1a" stroke-width="0.9"/>
<line x1="231.22" y1="533.90" x2="231.22" y2="535.70" stroke="#1a1a1a" stroke-width="0.9"/>
<line x1="232.45" y1="533.90" x2="232.45" y2="535.70" stroke="#1a1a1a" stroke-width="0.9"/>
<line x1="233.53" y1="533.90" x2="233.53" y2="535.70" stroke="#1a1a1a" stroke-width="0.9"/>
<line x1="234.50" y1="533.90" x2="234.50" y2="537.10" stroke="#1a1a1a" stroke-width="1.0"/>
<line x1="240.88" y1="533.90" x2="240.88" y2="535.70" stroke="#1a1a1a" stroke-width="0.9"/>
<line x1="244.61" y1="533.90" x2="244.61" y2="535.70" stroke="#1a1a1a" stroke-width="0.9"/>
<line x1="247.26" y1="533.90" x2="247.26" y2="535.70" stroke="#1a1a1a" stroke-width="0.9"/>
<line x1="249.32" y1="533.90" x2="249.32" y2="535.70" stroke="#1a1a1a" stroke-width="0.9"/>
<line x1="251.00" y1="533.90" x2="251.00" y2="535.70" stroke="#1a1a1a" stroke-width="0.9"/>
<line x1="252.42" y1="533.90" x2="252.42" y2="535.70" stroke="#1a1a1a" stroke-width="0.9"/>
<line x1="253.65" y1="533.90" x2="253.65" y2="535.70" stroke="#1a1a1a" stroke-width="0.9"/>
<line x1="254.73" y1="533.90" x2="254.73" y2="535.70" stroke="#1a1a1a" stroke-width="0.9"/>
<line x1="255.70" y1="533.90" x2="255.70" y2="537.10" stroke="#1a1a1a" stroke-width="1.0"/>
<line x1="262.11" y1="533.90" x2="262.11" y2="535.70" stroke="#1a1a1a" stroke-width="0.9"/>
<line x1="265.86" y1="533.90" x2="265.86" y2="535.70" stroke="#1a1a1a" stroke-width="0.9"/>
<line x1="268.52" y1="533.90" x2="268.52" y2="535.70" stroke="#1a1a1a" stroke-width="0.9"/>
<line x1="270.59" y1="533.90" x2="270.59" y2="535.70" stroke="#1a1a1a" stroke-width="0.9"/>
<line x1="272.27" y1="533.90" x2="272.27" y2="535.70" stroke="#1a1a1a" stroke-width="0.9"/>
<line x1="273.70" y1="533.90" x2="273.70" y2="535.70" stroke="#1a1a1a" stroke-width="0.9"/>
<line x1="274.94" y1="533.90" x2="274.94" y2="535.70" stroke="#1a1a1a" stroke-width="0.9"/>
<line x1="276.03" y1="533.90" x2="276.03" y2="535.70" stroke="#1a1a1a" stroke-width="0.9"/>
<line x1="277.00" y1="533.90" x2="277.00" y2="537.10" stroke="#1a1a1a" stroke-width="1.0"/>
<line x1="283.38" y1="533.90" x2="283.38" y2="535.70" stroke="#1a1a1a" stroke-width="0.9"/>
<line x1="287.11" y1="533.90" x2="287.11" y2="535.70" stroke="#1a1a1a" stroke-width="0.9"/>
<line x1="289.76" y1="533.90" x2="289.76" y2="535.70" stroke="#1a1a1a" stroke-width="0.9"/>
<line x1="291.82" y1="533.90" x2="291.82" y2="535.70" stroke="#1a1a1a" stroke-width="0.9"/>
<line x1="293.50" y1="533.90" x2="293.50" y2="535.70" stroke="#1a1a1a" stroke-width="0.9"/>
<line x1="294.92" y1="533.90" x2="294.92" y2="535.70" stroke="#1a1a1a" stroke-width="0.9"/>
<line x1="296.15" y1="533.90" x2="296.15" y2="535.70" stroke="#1a1a1a" stroke-width="0.9"/>
<line x1="297.23" y1="533.90" x2="297.23" y2="535.70" stroke="#1a1a1a" stroke-width="0.9"/>
<line x1="298.20" y1="533.90" x2="298.20" y2="537.10" stroke="#1a1a1a" stroke-width="1.0"/>
<line x1="304.61" y1="533.90" x2="304.61" y2="535.70" stroke="#1a1a1a" stroke-width="0.9"/>
<line x1="308.36" y1="533.90" x2="308.36" y2="535.70" stroke="#1a1a1a" stroke-width="0.9"/>
<line x1="311.02" y1="533.90" x2="311.02" y2="535.70" stroke="#1a1a1a" stroke-width="0.9"/>
<line x1="313.09" y1="533.90" x2="313.09" y2="535.70" stroke="#1a1a1a" stroke-width="0.9"/>
<line x1="314.77" y1="533.90" x2="314.77" y2="535.70" stroke="#1a1a1a" stroke-width="0.9"/>
<line x1="316.20" y1="533.90" x2="316.20" y2="535.70" stroke="#1a1a1a" stroke-width="0.9"/>
<line x1="317.44" y1="533.90" x2="317.44" y2="535.70" stroke="#1a1a1a" stroke-width="0.9"/>
<line x1="318.53" y1="533.90" x2="318.53" y2="535.70" stroke="#1a1a1a" stroke-width="0.9"/>
<line x1="319.50" y1="533.90" x2="319.50" y2="537.10" stroke="#1a1a1a" stroke-width="1.0"/>
<line x1="204.86" y1="533.90" x2="204.86" y2="535.70" stroke="#1a1a1a" stroke-width="0.9"/>
<line x1="206.92" y1="533.90" x2="206.92" y2="535.70" stroke="#1a1a1a" stroke-width="0.9"/>
<line x1="208.60" y1="533.90" x2="208.60" y2="535.70" stroke="#1a1a1a" stroke-width="0.9"/>
<line x1="210.02" y1="533.90" x2="210.02" y2="535.70" stroke="#1a1a1a" stroke-width="0.9"/>
<line x1="211.25" y1="533.90" x2="211.25" y2="535.70" stroke="#1a1a1a" stroke-width="0.9"/>
<line x1="212.33" y1="533.90" x2="212.33" y2="535.70" stroke="#1a1a1a" stroke-width="0.9"/>
<text x="262.00" y="411.60" font-size="8.4" text-anchor="middle" fill="#1a1a1a" stroke="#1a1a1a" stroke-width="0.25" style="white-space:pre">CD30- Jurkat</text>
<text x="264.60" y="551.80" font-size="8.3" text-anchor="middle" fill="#1a1a1a" stroke="#1a1a1a" stroke-width="0.25">CD30-PE</text>
<text x="0" y="0" font-size="8.2" text-anchor="middle" fill="#1a1a1a" stroke="#1a1a1a" stroke-width="0.25" transform="translate(182.00 476.85) rotate(-90)">% of Max</text>
<path d="M204.10 533.56 L208.60 533.33 L215.50 532.07 L218.60 530.47 L221.10 528.63 L223.10 525.88 L224.80 523.02 L226.60 522.45 L228.60 521.88 L230.10 519.59 L232.40 515.58 L234.60 508.71 L236.90 500.69 L238.60 488.10 L239.60 474.36 L240.90 460.62 L242.10 456.61 L243.60 450.31 L244.80 442.30 L245.80 436.57 L246.50 436.00 L247.40 438.87 L248.20 443.44 L249.00 456.04 L249.90 468.63 L250.70 482.38 L251.50 494.97 L252.60 508.71 L253.80 517.87 L254.90 524.17 L256.00 527.95 L257.60 530.92 L259.40 532.41 L261.60 533.56 L266.60 533.90" fill="none" stroke="#b8b8b8" stroke-width="1.7" stroke-linejoin="round" stroke-linecap="round"/>
<path d="M204.10 533.56 L208.60 533.33 L215.50 532.07 L218.60 530.69 L221.10 529.09 L223.60 528.17 L226.80 524.63 L229.60 521.30 L232.40 516.73 L234.60 509.85 L236.90 501.04 L238.60 491.53 L240.30 480.89 L242.50 458.67 L243.80 449.17 L244.50 433.14 L245.00 419.40 L245.70 427.41 L246.20 425.12 L248.00 425.70 L249.10 428.56 L249.90 433.94 L250.70 442.30 L251.50 450.77 L252.60 464.05 L253.80 478.71 L254.70 492.68 L255.50 504.36 L256.60 513.29 L257.70 518.90 L259.10 523.60 L260.60 526.80 L262.60 529.32 L264.60 531.38 L266.20 532.18 L268.60 532.87 L277.40 532.98 L283.60 533.44 L293.60 533.67 L308.60 533.90" fill="none" stroke="#8b1c1c" stroke-width="1.9" stroke-linejoin="round" stroke-linecap="round"/>
<path d="M215.50 532.07 L218.60 530.47 L221.10 528.63 L223.10 525.88 L224.80 523.02 L226.60 522.45 L228.60 521.88 L230.10 519.59 L232.40 515.58 L234.60 508.71 L236.90 500.69 L238.60 488.10 L239.60 474.36" fill="none" stroke="#c4c4c4" stroke-width="1.5" stroke-linejoin="round" stroke-linecap="round" stroke-dasharray="2.2 2.4"/>
<text x="213.00" y="437.30" font-size="7.6" text-anchor="start" fill="#333" stroke="#333" stroke-width="0.25">Isotype</text>
<text x="254.00" y="437.10" font-size="7.6" text-anchor="start" fill="#c62828" stroke="#c62828" stroke-width="0.25">Antibody</text>
<rect x="353.60" y="413.40" width="120.90" height="121.10" fill="none" stroke="#1a1a1a" stroke-width="1.6"/>
<line x1="350.60" y1="534.20" x2="353.60" y2="534.20" stroke="#1a1a1a" stroke-width="1.2"/>
<text x="350.00" y="536.50" font-size="6.4" text-anchor="end" fill="#444" stroke="#444" stroke-width="0.25">0</text>
<line x1="350.60" y1="506.70" x2="353.60" y2="506.70" stroke="#1a1a1a" stroke-width="1.2"/>
<text x="350.00" y="509.00" font-size="6.4" text-anchor="end" fill="#444" stroke="#444" stroke-width="0.25">200</text>
<line x1="350.60" y1="479.20" x2="353.60" y2="479.20" stroke="#1a1a1a" stroke-width="1.2"/>
<text x="350.00" y="481.50" font-size="6.4" text-anchor="end" fill="#444" stroke="#444" stroke-width="0.25">400</text>
<line x1="350.60" y1="451.70" x2="353.60" y2="451.70" stroke="#1a1a1a" stroke-width="1.2"/>
<text x="350.00" y="454.00" font-size="6.4" text-anchor="end" fill="#444" stroke="#444" stroke-width="0.25">600</text>
<line x1="350.60" y1="424.20" x2="353.60" y2="424.20" stroke="#1a1a1a" stroke-width="1.2"/>
<text x="350.00" y="426.50" font-size="6.4" text-anchor="end" fill="#444" stroke="#444" stroke-width="0.25">800</text>
<line x1="352.00" y1="520.45" x2="353.60" y2="520.45" stroke="#1a1a1a" stroke-width="0.9"/>
<line x1="352.00" y1="492.95" x2="353.60" y2="492.95" stroke="#1a1a1a" stroke-width="0.9"/>
<line x1="352.00" y1="465.45" x2="353.60" y2="465.45" stroke="#1a1a1a" stroke-width="0.9"/>
<line x1="352.00" y1="437.95" x2="353.60" y2="437.95" stroke="#1a1a1a" stroke-width="0.9"/>
<line x1="353.80" y1="534.50" x2="353.80" y2="537.70" stroke="#1a1a1a" stroke-width="1.0"/>
<line x1="360.33" y1="534.50" x2="360.33" y2="536.30" stroke="#1a1a1a" stroke-width="0.9"/>
<line x1="364.15" y1="534.50" x2="364.15" y2="536.30" stroke="#1a1a1a" stroke-width="0.9"/>
<line x1="366.86" y1="534.50" x2="366.86" y2="536.30" stroke="#1a1a1a" stroke-width="0.9"/>
<line x1="368.97" y1="534.50" x2="368.97" y2="536.30" stroke="#1a1a1a" stroke-width="0.9"/>
<line x1="370.69" y1="534.50" x2="370.69" y2="536.30" stroke="#1a1a1a" stroke-width="0.9"/>
<line x1="372.14" y1="534.50" x2="372.14" y2="536.30" stroke="#1a1a1a" stroke-width="0.9"/>
<line x1="373.40" y1="534.50" x2="373.40" y2="536.30" stroke="#1a1a1a" stroke-width="0.9"/>
<line x1="374.51" y1="534.50" x2="374.51" y2="536.30" stroke="#1a1a1a" stroke-width="0.9"/>
<line x1="375.50" y1="534.50" x2="375.50" y2="537.70" stroke="#1a1a1a" stroke-width="1.0"/>
<line x1="382.06" y1="534.50" x2="382.06" y2="536.30" stroke="#1a1a1a" stroke-width="0.9"/>
<line x1="385.90" y1="534.50" x2="385.90" y2="536.30" stroke="#1a1a1a" stroke-width="0.9"/>
<line x1="388.62" y1="534.50" x2="388.62" y2="536.30" stroke="#1a1a1a" stroke-width="0.9"/>
<line x1="390.74" y1="534.50" x2="390.74" y2="536.30" stroke="#1a1a1a" stroke-width="0.9"/>
<line x1="392.46" y1="534.50" x2="392.46" y2="536.30" stroke="#1a1a1a" stroke-width="0.9"/>
<line x1="393.92" y1="534.50" x2="393.92" y2="536.30" stroke="#1a1a1a" stroke-width="0.9"/>
<line x1="395.19" y1="534.50" x2="395.19" y2="536.30" stroke="#1a1a1a" stroke-width="0.9"/>
<line x1="396.30" y1="534.50" x2="396.30" y2="536.30" stroke="#1a1a1a" stroke-width="0.9"/>
<line x1="397.30" y1="534.50" x2="397.30" y2="537.70" stroke="#1a1a1a" stroke-width="1.0"/>
<line x1="403.83" y1="534.50" x2="403.83" y2="536.30" stroke="#1a1a1a" stroke-width="0.9"/>
<line x1="407.65" y1="534.50" x2="407.65" y2="536.30" stroke="#1a1a1a" stroke-width="0.9"/>
<line x1="410.36" y1="534.50" x2="410.36" y2="536.30" stroke="#1a1a1a" stroke-width="0.9"/>
<line x1="412.47" y1="534.50" x2="412.47" y2="536.30" stroke="#1a1a1a" stroke-width="0.9"/>
<line x1="414.19" y1="534.50" x2="414.19" y2="536.30" stroke="#1a1a1a" stroke-width="0.9"/>
<line x1="415.64" y1="534.50" x2="415.64" y2="536.30" stroke="#1a1a1a" stroke-width="0.9"/>
<line x1="416.90" y1="534.50" x2="416.90" y2="536.30" stroke="#1a1a1a" stroke-width="0.9"/>
<line x1="418.01" y1="534.50" x2="418.01" y2="536.30" stroke="#1a1a1a" stroke-width="0.9"/>
<line x1="419.00" y1="534.50" x2="419.00" y2="537.70" stroke="#1a1a1a" stroke-width="1.0"/>
<line x1="425.56" y1="534.50" x2="425.56" y2="536.30" stroke="#1a1a1a" stroke-width="0.9"/>
<line x1="429.40" y1="534.50" x2="429.40" y2="536.30" stroke="#1a1a1a" stroke-width="0.9"/>
<line x1="432.12" y1="534.50" x2="432.12" y2="536.30" stroke="#1a1a1a" stroke-width="0.9"/>
<line x1="434.24" y1="534.50" x2="434.24" y2="536.30" stroke="#1a1a1a" stroke-width="0.9"/>
<line x1="435.96" y1="534.50" x2="435.96" y2="536.30" stroke="#1a1a1a" stroke-width="0.9"/>
<line x1="437.42" y1="534.50" x2="437.42" y2="536.30" stroke="#1a1a1a" stroke-width="0.9"/>
<line x1="438.69" y1="534.50" x2="438.69" y2="536.30" stroke="#1a1a1a" stroke-width="0.9"/>
<line x1="439.80" y1="534.50" x2="439.80" y2="536.30" stroke="#1a1a1a" stroke-width="0.9"/>
<line x1="440.80" y1="534.50" x2="440.80" y2="537.70" stroke="#1a1a1a" stroke-width="1.0"/>
<line x1="447.33" y1="534.50" x2="447.33" y2="536.30" stroke="#1a1a1a" stroke-width="0.9"/>
<line x1="451.15" y1="534.50" x2="451.15" y2="536.30" stroke="#1a1a1a" stroke-width="0.9"/>
<line x1="453.86" y1="534.50" x2="453.86" y2="536.30" stroke="#1a1a1a" stroke-width="0.9"/>
<line x1="455.97" y1="534.50" x2="455.97" y2="536.30" stroke="#1a1a1a" stroke-width="0.9"/>
<line x1="457.69" y1="534.50" x2="457.69" y2="536.30" stroke="#1a1a1a" stroke-width="0.9"/>
<line x1="459.14" y1="534.50" x2="459.14" y2="536.30" stroke="#1a1a1a" stroke-width="0.9"/>
<line x1="460.40" y1="534.50" x2="460.40" y2="536.30" stroke="#1a1a1a" stroke-width="0.9"/>
<line x1="461.51" y1="534.50" x2="461.51" y2="536.30" stroke="#1a1a1a" stroke-width="0.9"/>
<line x1="462.50" y1="534.50" x2="462.50" y2="537.70" stroke="#1a1a1a" stroke-width="1.0"/>
<text x="414.55" y="551.80" font-size="8.3" text-anchor="middle" fill="#1a1a1a" stroke="#1a1a1a" stroke-width="0.25">CD30-PE</text>
<text x="0" y="0" font-size="8.2" text-anchor="middle" fill="#1a1a1a" stroke="#1a1a1a" stroke-width="0.25" transform="translate(333.60 476.95) rotate(-90)">% of Max</text>
<path d="M395.60 534.20 L400.00 533.60 L403.70 532.80 L407.00 531.70 L410.20 530.70 L412.50 530.10 L415.10 529.90 L418.30 530.40 L420.50 531.30 L422.40 532.40 L424.50 533.20 L426.50 533.70 L428.00 533.40 L429.70 532.80 L431.80 532.10 L433.80 531.20 L436.00 529.50 L437.90 527.10 L440.00 523.50 L441.90 519.00 L444.00 512.00 L446.00 502.70 L447.70 493.50 L449.30 483.20 L450.50 473.00 L451.70 462.10 L452.90 450.50 L454.10 439.30 L455.30 429.50 L456.60 421.40 L457.20 418.50 L457.70 417.80 L458.30 419.50 L459.00 423.00 L460.20 431.00 L461.50 442.50 L462.70 456.00 L463.90 471.80 L465.10 487.00 L466.30 501.10 L467.50 513.00 L468.80 522.30 L470.00 527.50 L471.20 531.20 L472.50 533.30 L473.70 534.20" fill="none" stroke="#a82a2a" stroke-width="1.3" stroke-linejoin="round"/>
<path d="M353.90 534.20 L353.70 499.50 L354.20 500.00 L355.20 534.20 L379.30 534.20 L383.00 533.50 L387.40 532.00 L391.00 530.00 L393.90 527.10 L396.50 524.00 L398.80 520.60 L400.50 516.00 L402.10 510.90 L403.80 505.50 L405.30 499.50 L406.60 492.00 L407.80 483.20 L409.00 474.00 L410.20 463.70 L411.30 453.00 L412.30 442.50 L413.10 434.00 L413.90 426.30 L414.50 423.00 L415.10 422.20 L415.70 423.20 L416.40 426.30 L417.40 431.00 L418.30 437.70 L419.30 446.00 L420.30 455.60 L421.20 466.00 L422.10 478.30 L423.00 490.00 L424.00 502.70 L425.00 514.00 L426.00 523.90 L427.00 530.00 L427.80 533.70 L429.00 534.20" fill="none" stroke="#3548b8" stroke-width="1.3" stroke-linejoin="round"/>
<text x="385.00" y="430.80" font-size="7.6" text-anchor="start" fill="#333" stroke="#333" stroke-width="0.25">K562</text>
<text x="419.60" y="430.80" font-size="7.6" text-anchor="start" fill="#d63a3a" stroke="#d63a3a" stroke-width="0.25">K562-CD30</text>
<rect x="505.70" y="413.60" width="120.90" height="120.90" fill="none" stroke="#1a1a1a" stroke-width="1.6"/>
<line x1="502.70" y1="534.00" x2="505.70" y2="534.00" stroke="#1a1a1a" stroke-width="1.2"/>
<text x="502.10" y="536.30" font-size="6.4" text-anchor="end" fill="#333" stroke="#333" stroke-width="0.25">0</text>
<line x1="502.70" y1="511.08" x2="505.70" y2="511.08" stroke="#1a1a1a" stroke-width="1.2"/>
<text x="502.10" y="513.38" font-size="6.4" text-anchor="end" fill="#333" stroke="#333" stroke-width="0.25">20</text>
<line x1="502.70" y1="488.16" x2="505.70" y2="488.16" stroke="#1a1a1a" stroke-width="1.2"/>
<text x="502.10" y="490.46" font-size="6.4" text-anchor="end" fill="#333" stroke="#333" stroke-width="0.25">40</text>
<line x1="502.70" y1="465.24" x2="505.70" y2="465.24" stroke="#1a1a1a" stroke-width="1.2"/>
<text x="502.10" y="467.54" font-size="6.4" text-anchor="end" fill="#333" stroke="#333" stroke-width="0.25">60</text>
<line x1="502.70" y1="442.32" x2="505.70" y2="442.32" stroke="#1a1a1a" stroke-width="1.2"/>
<text x="502.10" y="444.62" font-size="6.4" text-anchor="end" fill="#333" stroke="#333" stroke-width="0.25">80</text>
<line x1="502.70" y1="419.40" x2="505.70" y2="419.40" stroke="#1a1a1a" stroke-width="1.2"/>
<text x="502.10" y="421.70" font-size="6.4" text-anchor="end" fill="#333" stroke="#333" stroke-width="0.25">100</text>
<line x1="504.10" y1="528.27" x2="505.70" y2="528.27" stroke="#1a1a1a" stroke-width="0.9"/>
<line x1="504.10" y1="522.54" x2="505.70" y2="522.54" stroke="#1a1a1a" stroke-width="0.9"/>
<line x1="504.10" y1="516.81" x2="505.70" y2="516.81" stroke="#1a1a1a" stroke-width="0.9"/>
<line x1="504.10" y1="505.35" x2="505.70" y2="505.35" stroke="#1a1a1a" stroke-width="0.9"/>
<line x1="504.10" y1="499.62" x2="505.70" y2="499.62" stroke="#1a1a1a" stroke-width="0.9"/>
<line x1="504.10" y1="493.89" x2="505.70" y2="493.89" stroke="#1a1a1a" stroke-width="0.9"/>
<line x1="504.10" y1="482.43" x2="505.70" y2="482.43" stroke="#1a1a1a" stroke-width="0.9"/>
<line x1="504.10" y1="476.70" x2="505.70" y2="476.70" stroke="#1a1a1a" stroke-width="0.9"/>
<line x1="504.10" y1="470.97" x2="505.70" y2="470.97" stroke="#1a1a1a" stroke-width="0.9"/>
<line x1="504.10" y1="459.51" x2="505.70" y2="459.51" stroke="#1a1a1a" stroke-width="0.9"/>
<line x1="504.10" y1="453.78" x2="505.70" y2="453.78" stroke="#1a1a1a" stroke-width="0.9"/>
<line x1="504.10" y1="448.05" x2="505.70" y2="448.05" stroke="#1a1a1a" stroke-width="0.9"/>
<line x1="504.10" y1="436.59" x2="505.70" y2="436.59" stroke="#1a1a1a" stroke-width="0.9"/>
<line x1="504.10" y1="430.86" x2="505.70" y2="430.86" stroke="#1a1a1a" stroke-width="0.9"/>
<line x1="504.10" y1="425.13" x2="505.70" y2="425.13" stroke="#1a1a1a" stroke-width="0.9"/>
<line x1="505.90" y1="534.50" x2="505.90" y2="537.70" stroke="#1a1a1a" stroke-width="1.0"/>
<line x1="512.34" y1="534.50" x2="512.34" y2="536.30" stroke="#1a1a1a" stroke-width="0.9"/>
<line x1="516.11" y1="534.50" x2="516.11" y2="536.30" stroke="#1a1a1a" stroke-width="0.9"/>
<line x1="518.78" y1="534.50" x2="518.78" y2="536.30" stroke="#1a1a1a" stroke-width="0.9"/>
<line x1="520.86" y1="534.50" x2="520.86" y2="536.30" stroke="#1a1a1a" stroke-width="0.9"/>
<line x1="522.55" y1="534.50" x2="522.55" y2="536.30" stroke="#1a1a1a" stroke-width="0.9"/>
<line x1="523.99" y1="534.50" x2="523.99" y2="536.30" stroke="#1a1a1a" stroke-width="0.9"/>
<line x1="525.23" y1="534.50" x2="525.23" y2="536.30" stroke="#1a1a1a" stroke-width="0.9"/>
<line x1="526.32" y1="534.50" x2="526.32" y2="536.30" stroke="#1a1a1a" stroke-width="0.9"/>
<line x1="527.30" y1="534.50" x2="527.30" y2="537.70" stroke="#1a1a1a" stroke-width="1.0"/>
<line x1="534.01" y1="534.50" x2="534.01" y2="536.30" stroke="#1a1a1a" stroke-width="0.9"/>
<line x1="537.94" y1="534.50" x2="537.94" y2="536.30" stroke="#1a1a1a" stroke-width="0.9"/>
<line x1="540.73" y1="534.50" x2="540.73" y2="536.30" stroke="#1a1a1a" stroke-width="0.9"/>
<line x1="542.89" y1="534.50" x2="542.89" y2="536.30" stroke="#1a1a1a" stroke-width="0.9"/>
<line x1="544.65" y1="534.50" x2="544.65" y2="536.30" stroke="#1a1a1a" stroke-width="0.9"/>
<line x1="546.15" y1="534.50" x2="546.15" y2="536.30" stroke="#1a1a1a" stroke-width="0.9"/>
<line x1="547.44" y1="534.50" x2="547.44" y2="536.30" stroke="#1a1a1a" stroke-width="0.9"/>
<line x1="548.58" y1="534.50" x2="548.58" y2="536.30" stroke="#1a1a1a" stroke-width="0.9"/>
<line x1="549.60" y1="534.50" x2="549.60" y2="537.70" stroke="#1a1a1a" stroke-width="1.0"/>
<line x1="556.22" y1="534.50" x2="556.22" y2="536.30" stroke="#1a1a1a" stroke-width="0.9"/>
<line x1="560.10" y1="534.50" x2="560.10" y2="536.30" stroke="#1a1a1a" stroke-width="0.9"/>
<line x1="562.85" y1="534.50" x2="562.85" y2="536.30" stroke="#1a1a1a" stroke-width="0.9"/>
<line x1="564.98" y1="534.50" x2="564.98" y2="536.30" stroke="#1a1a1a" stroke-width="0.9"/>
<line x1="566.72" y1="534.50" x2="566.72" y2="536.30" stroke="#1a1a1a" stroke-width="0.9"/>
<line x1="568.19" y1="534.50" x2="568.19" y2="536.30" stroke="#1a1a1a" stroke-width="0.9"/>
<line x1="569.47" y1="534.50" x2="569.47" y2="536.30" stroke="#1a1a1a" stroke-width="0.9"/>
<line x1="570.59" y1="534.50" x2="570.59" y2="536.30" stroke="#1a1a1a" stroke-width="0.9"/>
<line x1="571.60" y1="534.50" x2="571.60" y2="537.70" stroke="#1a1a1a" stroke-width="1.0"/>
<line x1="578.34" y1="534.50" x2="578.34" y2="536.30" stroke="#1a1a1a" stroke-width="0.9"/>
<line x1="582.29" y1="534.50" x2="582.29" y2="536.30" stroke="#1a1a1a" stroke-width="0.9"/>
<line x1="585.09" y1="534.50" x2="585.09" y2="536.30" stroke="#1a1a1a" stroke-width="0.9"/>
<line x1="587.26" y1="534.50" x2="587.26" y2="536.30" stroke="#1a1a1a" stroke-width="0.9"/>
<line x1="589.03" y1="534.50" x2="589.03" y2="536.30" stroke="#1a1a1a" stroke-width="0.9"/>
<line x1="590.53" y1="534.50" x2="590.53" y2="536.30" stroke="#1a1a1a" stroke-width="0.9"/>
<line x1="591.83" y1="534.50" x2="591.83" y2="536.30" stroke="#1a1a1a" stroke-width="0.9"/>
<line x1="592.98" y1="534.50" x2="592.98" y2="536.30" stroke="#1a1a1a" stroke-width="0.9"/>
<line x1="594.00" y1="534.50" x2="594.00" y2="537.70" stroke="#1a1a1a" stroke-width="1.0"/>
<line x1="600.71" y1="534.50" x2="600.71" y2="536.30" stroke="#1a1a1a" stroke-width="0.9"/>
<line x1="604.64" y1="534.50" x2="604.64" y2="536.30" stroke="#1a1a1a" stroke-width="0.9"/>
<line x1="607.43" y1="534.50" x2="607.43" y2="536.30" stroke="#1a1a1a" stroke-width="0.9"/>
<line x1="609.59" y1="534.50" x2="609.59" y2="536.30" stroke="#1a1a1a" stroke-width="0.9"/>
<line x1="611.35" y1="534.50" x2="611.35" y2="536.30" stroke="#1a1a1a" stroke-width="0.9"/>
<line x1="612.85" y1="534.50" x2="612.85" y2="536.30" stroke="#1a1a1a" stroke-width="0.9"/>
<line x1="614.14" y1="534.50" x2="614.14" y2="536.30" stroke="#1a1a1a" stroke-width="0.9"/>
<line x1="615.28" y1="534.50" x2="615.28" y2="536.30" stroke="#1a1a1a" stroke-width="0.9"/>
<line x1="616.30" y1="534.50" x2="616.30" y2="537.70" stroke="#1a1a1a" stroke-width="1.0"/>
<text x="565.00" y="411.40" font-size="8.4" text-anchor="middle" fill="#1a1a1a" stroke="#1a1a1a" stroke-width="0.25" style="white-space:pre">CD30+  L540</text>
<text x="566.65" y="551.80" font-size="8.3" text-anchor="middle" fill="#1a1a1a" stroke="#1a1a1a" stroke-width="0.25">CD30-PE</text>
<text x="0" y="0" font-size="8.2" text-anchor="middle" fill="#1a1a1a" stroke="#1a1a1a" stroke-width="0.25" transform="translate(484.80 477.05) rotate(-90)">% of Max</text>
<path d="M506.50 534.00 L515.50 534.00 L517.50 533.00 L519.50 531.20 L521.00 530.00 L522.80 529.60 L525.20 529.60 L526.50 527.50 L527.70 525.50 L529.70 523.50 L531.70 521.50 L533.00 519.00 L534.20 517.40 L535.80 514.10 L537.00 509.00 L538.20 504.40 L539.50 500.00 L540.70 494.60 L541.70 487.00 L542.60 480.00 L543.60 471.00 L544.70 462.10 L546.00 455.00 L547.20 449.00 L548.40 441.00 L549.60 432.80 L550.50 428.00 L551.30 425.50 L552.10 426.50 L552.90 429.50 L553.70 438.00 L554.50 447.40 L555.30 450.00 L556.10 452.30 L557.00 461.00 L557.80 471.80 L558.60 484.00 L559.40 496.20 L560.60 506.00 L561.80 514.10 L563.40 519.50 L565.10 523.90 L566.70 526.50 L568.30 528.80 L570.70 531.00 L573.20 532.80 L576.50 534.00" fill="none" stroke="#b8b8b8" stroke-width="1.9" stroke-linejoin="round" stroke-linecap="round"/>
<path d="M550.40 534.00 L553.00 533.80 L555.30 533.30 L557.00 532.50 L558.60 531.20 L560.50 529.30 L562.60 527.50 L565.50 526.20 L568.30 525.50 L570.00 526.00 L571.60 526.80 L574.00 527.00 L576.50 526.80 L578.50 526.30 L580.50 525.50 L582.00 524.00 L583.00 522.30 L584.20 519.50 L585.40 515.80 L586.60 510.50 L587.90 504.40 L589.10 496.00 L590.30 486.50 L591.50 477.00 L592.70 466.90 L594.00 458.00 L595.20 450.70 L596.00 444.00 L596.80 437.70 L597.60 435.50 L598.40 434.40 L599.50 429.00 L600.60 423.80 L601.50 427.50 L602.50 432.80 L603.70 438.00 L605.00 444.20 L606.20 452.50 L607.40 462.10 L608.60 472.50 L609.80 483.20 L611.00 495.50 L612.30 507.60 L613.50 517.00 L614.70 525.50 L615.90 530.00 L617.10 532.80 L618.40 533.70 L619.60 534.00" fill="none" stroke="#a82a2a" stroke-width="1.9" stroke-linejoin="round" stroke-linecap="round"/>
<text x="519.00" y="437.40" font-size="7.6" text-anchor="start" fill="#333" stroke="#333" stroke-width="0.25">Isotype</text>
<text x="564.40" y="437.40" font-size="7.6" text-anchor="start" fill="#d63a3a" stroke="#d63a3a" stroke-width="0.25">Antibody</text>
<rect x="663.40" y="413.60" width="122.10" height="121.00" fill="none" stroke="#1a1a1a" stroke-width="1.6"/>
<line x1="660.40" y1="533.70" x2="663.40" y2="533.70" stroke="#1a1a1a" stroke-width="1.2"/>
<text x="659.80" y="536.00" font-size="6.4" text-anchor="end" fill="#333" stroke="#333" stroke-width="0.25">0</text>
<line x1="660.40" y1="510.78" x2="663.40" y2="510.78" stroke="#1a1a1a" stroke-width="1.2"/>
<text x="659.80" y="513.08" font-size="6.4" text-anchor="end" fill="#333" stroke="#333" stroke-width="0.25">20</text>
<line x1="660.40" y1="487.86" x2="663.40" y2="487.86" stroke="#1a1a1a" stroke-width="1.2"/>
<text x="659.80" y="490.16" font-size="6.4" text-anchor="end" fill="#333" stroke="#333" stroke-width="0.25">40</text>
<line x1="660.40" y1="464.94" x2="663.40" y2="464.94" stroke="#1a1a1a" stroke-width="1.2"/>
<text x="659.80" y="467.24" font-size="6.4" text-anchor="end" fill="#333" stroke="#333" stroke-width="0.25">60</text>
<line x1="660.40" y1="442.02" x2="663.40" y2="442.02" stroke="#1a1a1a" stroke-width="1.2"/>
<text x="659.80" y="444.32" font-size="6.4" text-anchor="end" fill="#333" stroke="#333" stroke-width="0.25">80</text>
<line x1="660.40" y1="419.10" x2="663.40" y2="419.10" stroke="#1a1a1a" stroke-width="1.2"/>
<text x="659.80" y="421.40" font-size="6.4" text-anchor="end" fill="#333" stroke="#333" stroke-width="0.25">100</text>
<line x1="661.80" y1="527.97" x2="663.40" y2="527.97" stroke="#1a1a1a" stroke-width="0.9"/>
<line x1="661.80" y1="522.24" x2="663.40" y2="522.24" stroke="#1a1a1a" stroke-width="0.9"/>
<line x1="661.80" y1="516.51" x2="663.40" y2="516.51" stroke="#1a1a1a" stroke-width="0.9"/>
<line x1="661.80" y1="505.05" x2="663.40" y2="505.05" stroke="#1a1a1a" stroke-width="0.9"/>
<line x1="661.80" y1="499.32" x2="663.40" y2="499.32" stroke="#1a1a1a" stroke-width="0.9"/>
<line x1="661.80" y1="493.59" x2="663.40" y2="493.59" stroke="#1a1a1a" stroke-width="0.9"/>
<line x1="661.80" y1="482.13" x2="663.40" y2="482.13" stroke="#1a1a1a" stroke-width="0.9"/>
<line x1="661.80" y1="476.40" x2="663.40" y2="476.40" stroke="#1a1a1a" stroke-width="0.9"/>
<line x1="661.80" y1="470.67" x2="663.40" y2="470.67" stroke="#1a1a1a" stroke-width="0.9"/>
<line x1="661.80" y1="459.21" x2="663.40" y2="459.21" stroke="#1a1a1a" stroke-width="0.9"/>
<line x1="661.80" y1="453.48" x2="663.40" y2="453.48" stroke="#1a1a1a" stroke-width="0.9"/>
<line x1="661.80" y1="447.75" x2="663.40" y2="447.75" stroke="#1a1a1a" stroke-width="0.9"/>
<line x1="661.80" y1="436.29" x2="663.40" y2="436.29" stroke="#1a1a1a" stroke-width="0.9"/>
<line x1="661.80" y1="430.56" x2="663.40" y2="430.56" stroke="#1a1a1a" stroke-width="0.9"/>
<line x1="661.80" y1="424.83" x2="663.40" y2="424.83" stroke="#1a1a1a" stroke-width="0.9"/>
<line x1="663.60" y1="534.60" x2="663.60" y2="537.80" stroke="#1a1a1a" stroke-width="1.0"/>
<line x1="670.19" y1="534.60" x2="670.19" y2="536.40" stroke="#1a1a1a" stroke-width="0.9"/>
<line x1="674.05" y1="534.60" x2="674.05" y2="536.40" stroke="#1a1a1a" stroke-width="0.9"/>
<line x1="676.79" y1="534.60" x2="676.79" y2="536.40" stroke="#1a1a1a" stroke-width="0.9"/>
<line x1="678.91" y1="534.60" x2="678.91" y2="536.40" stroke="#1a1a1a" stroke-width="0.9"/>
<line x1="680.64" y1="534.60" x2="680.64" y2="536.40" stroke="#1a1a1a" stroke-width="0.9"/>
<line x1="682.11" y1="534.60" x2="682.11" y2="536.40" stroke="#1a1a1a" stroke-width="0.9"/>
<line x1="683.38" y1="534.60" x2="683.38" y2="536.40" stroke="#1a1a1a" stroke-width="0.9"/>
<line x1="684.50" y1="534.60" x2="684.50" y2="536.40" stroke="#1a1a1a" stroke-width="0.9"/>
<line x1="685.50" y1="534.60" x2="685.50" y2="537.80" stroke="#1a1a1a" stroke-width="1.0"/>
<line x1="692.12" y1="534.60" x2="692.12" y2="536.40" stroke="#1a1a1a" stroke-width="0.9"/>
<line x1="696.00" y1="534.60" x2="696.00" y2="536.40" stroke="#1a1a1a" stroke-width="0.9"/>
<line x1="698.75" y1="534.60" x2="698.75" y2="536.40" stroke="#1a1a1a" stroke-width="0.9"/>
<line x1="700.88" y1="534.60" x2="700.88" y2="536.40" stroke="#1a1a1a" stroke-width="0.9"/>
<line x1="702.62" y1="534.60" x2="702.62" y2="536.40" stroke="#1a1a1a" stroke-width="0.9"/>
<line x1="704.09" y1="534.60" x2="704.09" y2="536.40" stroke="#1a1a1a" stroke-width="0.9"/>
<line x1="705.37" y1="534.60" x2="705.37" y2="536.40" stroke="#1a1a1a" stroke-width="0.9"/>
<line x1="706.49" y1="534.60" x2="706.49" y2="536.40" stroke="#1a1a1a" stroke-width="0.9"/>
<line x1="707.50" y1="534.60" x2="707.50" y2="537.80" stroke="#1a1a1a" stroke-width="1.0"/>
<line x1="714.12" y1="534.60" x2="714.12" y2="536.40" stroke="#1a1a1a" stroke-width="0.9"/>
<line x1="718.00" y1="534.60" x2="718.00" y2="536.40" stroke="#1a1a1a" stroke-width="0.9"/>
<line x1="720.75" y1="534.60" x2="720.75" y2="536.40" stroke="#1a1a1a" stroke-width="0.9"/>
<line x1="722.88" y1="534.60" x2="722.88" y2="536.40" stroke="#1a1a1a" stroke-width="0.9"/>
<line x1="724.62" y1="534.60" x2="724.62" y2="536.40" stroke="#1a1a1a" stroke-width="0.9"/>
<line x1="726.09" y1="534.60" x2="726.09" y2="536.40" stroke="#1a1a1a" stroke-width="0.9"/>
<line x1="727.37" y1="534.60" x2="727.37" y2="536.40" stroke="#1a1a1a" stroke-width="0.9"/>
<line x1="728.49" y1="534.60" x2="728.49" y2="536.40" stroke="#1a1a1a" stroke-width="0.9"/>
<line x1="729.50" y1="534.60" x2="729.50" y2="537.80" stroke="#1a1a1a" stroke-width="1.0"/>
<line x1="736.12" y1="534.60" x2="736.12" y2="536.40" stroke="#1a1a1a" stroke-width="0.9"/>
<line x1="740.00" y1="534.60" x2="740.00" y2="536.40" stroke="#1a1a1a" stroke-width="0.9"/>
<line x1="742.75" y1="534.60" x2="742.75" y2="536.40" stroke="#1a1a1a" stroke-width="0.9"/>
<line x1="744.88" y1="534.60" x2="744.88" y2="536.40" stroke="#1a1a1a" stroke-width="0.9"/>
<line x1="746.62" y1="534.60" x2="746.62" y2="536.40" stroke="#1a1a1a" stroke-width="0.9"/>
<line x1="748.09" y1="534.60" x2="748.09" y2="536.40" stroke="#1a1a1a" stroke-width="0.9"/>
<line x1="749.37" y1="534.60" x2="749.37" y2="536.40" stroke="#1a1a1a" stroke-width="0.9"/>
<line x1="750.49" y1="534.60" x2="750.49" y2="536.40" stroke="#1a1a1a" stroke-width="0.9"/>
<line x1="751.50" y1="534.60" x2="751.50" y2="537.80" stroke="#1a1a1a" stroke-width="1.0"/>
<line x1="758.12" y1="534.60" x2="758.12" y2="536.40" stroke="#1a1a1a" stroke-width="0.9"/>
<line x1="762.00" y1="534.60" x2="762.00" y2="536.40" stroke="#1a1a1a" stroke-width="0.9"/>
<line x1="764.75" y1="534.60" x2="764.75" y2="536.40" stroke="#1a1a1a" stroke-width="0.9"/>
<line x1="766.88" y1="534.60" x2="766.88" y2="536.40" stroke="#1a1a1a" stroke-width="0.9"/>
<line x1="768.62" y1="534.60" x2="768.62" y2="536.40" stroke="#1a1a1a" stroke-width="0.9"/>
<line x1="770.09" y1="534.60" x2="770.09" y2="536.40" stroke="#1a1a1a" stroke-width="0.9"/>
<line x1="771.37" y1="534.60" x2="771.37" y2="536.40" stroke="#1a1a1a" stroke-width="0.9"/>
<line x1="772.49" y1="534.60" x2="772.49" y2="536.40" stroke="#1a1a1a" stroke-width="0.9"/>
<line x1="773.50" y1="534.60" x2="773.50" y2="537.80" stroke="#1a1a1a" stroke-width="1.0"/>
<text x="723.00" y="411.40" font-size="8.4" text-anchor="middle" fill="#1a1a1a" stroke="#1a1a1a" stroke-width="0.25" style="white-space:pre">CD30+  L428</text>
<text x="724.95" y="551.80" font-size="8.3" text-anchor="middle" fill="#1a1a1a" stroke="#1a1a1a" stroke-width="0.25">CD30-PE</text>
<text x="0" y="0" font-size="8.2" text-anchor="middle" fill="#1a1a1a" stroke="#1a1a1a" stroke-width="0.25" transform="translate(642.50 477.10) rotate(-90)">% of Max</text>
<path d="M665.10 533.70 L674.10 533.70 L676.10 532.70 L678.10 530.90 L679.60 529.70 L681.40 529.30 L683.80 529.30 L685.10 527.20 L686.30 525.20 L688.30 523.20 L690.30 521.20 L691.60 518.70 L692.80 517.10 L694.40 513.80 L695.60 508.70 L696.80 504.10 L698.10 499.70 L699.30 494.30 L700.30 486.70 L701.20 479.70 L702.20 470.70 L703.30 461.80 L704.60 454.70 L705.80 448.70 L707.00 440.70 L708.20 432.50 L709.10 427.70 L709.90 425.20 L710.70 426.20 L711.50 429.20 L712.30 437.70 L713.10 447.10 L713.90 449.70 L714.70 452.00 L715.60 460.70 L716.40 471.50 L717.20 483.70 L718.00 495.90 L719.20 505.70 L720.40 513.80 L722.00 519.20 L723.70 523.60 L725.30 526.20 L726.90 528.50 L729.30 530.70 L731.80 532.50 L735.10 533.70" fill="none" stroke="#a0a0a0" stroke-width="1.1" stroke-linejoin="round" stroke-linecap="round"/>
<path d="M708.20 533.70 L710.80 533.50 L713.10 533.00 L714.80 532.20 L716.40 530.90 L718.30 529.00 L720.40 527.20 L723.30 525.90 L726.10 525.20 L727.80 525.70 L729.40 526.50 L731.80 526.70 L734.30 526.50 L736.30 526.00 L738.30 525.20 L739.80 523.70 L740.80 522.00 L742.00 519.20 L743.20 515.50 L744.40 510.20 L745.70 504.10 L746.90 495.70 L748.10 486.20 L749.30 476.70 L750.50 466.60 L751.80 457.70 L753.00 450.40 L753.80 443.70 L754.60 437.40 L755.40 435.20 L756.20 434.10 L757.30 428.70 L758.40 423.50 L759.30 427.20 L760.30 432.50 L761.50 437.70 L762.80 443.90 L764.00 452.20 L765.20 461.80 L766.40 472.20 L767.60 482.90 L768.80 495.20 L770.10 507.30 L771.30 516.70 L772.50 525.20 L773.70 529.70 L774.90 532.50 L776.20 533.40 L777.40 533.70" fill="none" stroke="#a82a2a" stroke-width="1.6" stroke-linejoin="round" stroke-linecap="round"/>
<text x="677.00" y="437.00" font-size="7.6" text-anchor="start" fill="#333" stroke="#333" stroke-width="0.25">Isotype</text>
<text x="722.60" y="437.00" font-size="7.6" text-anchor="start" fill="#d63a3a" stroke="#d63a3a" stroke-width="0.25">Antibody</text>
<text x="-0.50" y="587.50" font-size="19" text-anchor="start" fill="#1a1a1a" stroke="#1a1a1a" stroke-width="0.25">F</text>
<line x1="69.70" y1="715.51" x2="69.70" y2="706.88" stroke="#1a1a1a" stroke-width="1.5"/>
<line x1="66.30" y1="706.88" x2="73.10" y2="706.88" stroke="#1a1a1a" stroke-width="1.5"/>
<rect x="63.20" y="715.51" width="13.00" height="25.49" fill="#0d0d0d"/>
<line x1="90.20" y1="714.05" x2="90.20" y2="700.87" stroke="#34833a" stroke-width="1.5"/>
<line x1="86.80" y1="700.87" x2="93.60" y2="700.87" stroke="#34833a" stroke-width="1.5"/>
<rect x="83.70" y="714.05" width="13.00" height="26.95" fill="#34833a"/>
<line x1="110.70" y1="718.22" x2="110.70" y2="700.87" stroke="#8e2824" stroke-width="1.5"/>
<line x1="107.30" y1="700.87" x2="114.10" y2="700.87" stroke="#8e2824" stroke-width="1.5"/>
<rect x="104.20" y="718.22" width="13.00" height="22.78" fill="#8e2824"/>
<line x1="144.80" y1="713.18" x2="144.80" y2="708.43" stroke="#1a1a1a" stroke-width="1.5"/>
<line x1="141.40" y1="708.43" x2="148.20" y2="708.43" stroke="#1a1a1a" stroke-width="1.5"/>
<rect x="138.30" y="713.18" width="13.00" height="27.82" fill="#0d0d0d"/>
<line x1="165.30" y1="722.29" x2="165.30" y2="718.71" stroke="#34833a" stroke-width="1.5"/>
<line x1="161.90" y1="718.71" x2="168.70" y2="718.71" stroke="#34833a" stroke-width="1.5"/>
<rect x="158.80" y="722.29" width="13.00" height="18.71" fill="#34833a"/>
<line x1="185.80" y1="717.74" x2="185.80" y2="701.26" stroke="#8e2824" stroke-width="1.5"/>
<line x1="182.40" y1="701.26" x2="189.20" y2="701.26" stroke="#8e2824" stroke-width="1.5"/>
<rect x="179.30" y="717.74" width="13.00" height="23.26" fill="#8e2824"/>
<line x1="219.50" y1="709.30" x2="219.50" y2="695.25" stroke="#1a1a1a" stroke-width="1.5"/>
<line x1="216.10" y1="695.25" x2="222.90" y2="695.25" stroke="#1a1a1a" stroke-width="1.5"/>
<rect x="213.00" y="709.30" width="13.00" height="31.70" fill="#0d0d0d"/>
<line x1="240.00" y1="703.68" x2="240.00" y2="689.63" stroke="#34833a" stroke-width="1.5"/>
<line x1="236.60" y1="689.63" x2="243.40" y2="689.63" stroke="#34833a" stroke-width="1.5"/>
<rect x="233.50" y="703.68" width="13.00" height="37.32" fill="#34833a"/>
<line x1="260.50" y1="712.89" x2="260.50" y2="698.74" stroke="#8e2824" stroke-width="1.5"/>
<line x1="257.10" y1="698.74" x2="263.90" y2="698.74" stroke="#8e2824" stroke-width="1.5"/>
<rect x="254.00" y="712.89" width="13.00" height="28.11" fill="#8e2824"/>
<line x1="56.00" y1="595.00" x2="56.00" y2="741.60" stroke="#1a1a1a" stroke-width="1.4"/>
<line x1="49.40" y1="741.00" x2="56.00" y2="741.00" stroke="#1a1a1a" stroke-width="1.4"/>
<text x="47.80" y="744.99" font-size="10.8" text-anchor="end" fill="#1a1a1a" stroke="#1a1a1a" stroke-width="0.25">0</text>
<line x1="49.40" y1="711.92" x2="56.00" y2="711.92" stroke="#1a1a1a" stroke-width="1.4"/>
<text x="47.80" y="715.91" font-size="10.8" text-anchor="end" fill="#1a1a1a" stroke="#1a1a1a" stroke-width="0.25">3</text>
<line x1="49.40" y1="682.84" x2="56.00" y2="682.84" stroke="#1a1a1a" stroke-width="1.4"/>
<text x="47.80" y="686.83" font-size="10.8" text-anchor="end" fill="#1a1a1a" stroke="#1a1a1a" stroke-width="0.25">6</text>
<line x1="49.40" y1="653.76" x2="56.00" y2="653.76" stroke="#1a1a1a" stroke-width="1.4"/>
<text x="47.80" y="657.75" font-size="10.8" text-anchor="end" fill="#1a1a1a" stroke="#1a1a1a" stroke-width="0.25">9</text>
<line x1="49.40" y1="624.68" x2="56.00" y2="624.68" stroke="#1a1a1a" stroke-width="1.4"/>
<text x="47.80" y="628.67" font-size="10.8" text-anchor="end" fill="#1a1a1a" stroke="#1a1a1a" stroke-width="0.25">12</text>
<line x1="49.40" y1="595.61" x2="56.00" y2="595.61" stroke="#1a1a1a" stroke-width="1.4"/>
<text x="47.80" y="599.59" font-size="10.8" text-anchor="end" fill="#1a1a1a" stroke="#1a1a1a" stroke-width="0.25">15</text>
<line x1="55.40" y1="741.00" x2="275.20" y2="741.00" stroke="#1a1a1a" stroke-width="1.4"/>
<line x1="90.20" y1="741.00" x2="90.20" y2="747.00" stroke="#1a1a1a" stroke-width="1.4"/>
<text x="90.20" y="758.50" font-size="11.5" text-anchor="middle" fill="#1a1a1a" stroke="#1a1a1a" stroke-width="0.25">1</text>
<line x1="165.00" y1="741.00" x2="165.00" y2="747.00" stroke="#1a1a1a" stroke-width="1.4"/>
<text x="165.00" y="758.50" font-size="11.5" text-anchor="middle" fill="#1a1a1a" stroke="#1a1a1a" stroke-width="0.25">5</text>
<line x1="239.60" y1="741.00" x2="239.60" y2="747.00" stroke="#1a1a1a" stroke-width="1.4"/>
<text x="239.60" y="758.50" font-size="11.5" text-anchor="middle" fill="#1a1a1a" stroke="#1a1a1a" stroke-width="0.25">25</text>
<text x="145.40" y="587.60" font-size="8.4" text-anchor="middle" font-weight="bold" fill="#1a1a1a" stroke="#1a1a1a" stroke-width="0.25" style="white-space:pre">CD30- Raji</text>
<rect x="62.40" y="596.60" width="14.70" height="6.90" fill="#0d0d0d"/>
<text x="85.90" y="603.50" font-size="12" text-anchor="start" fill="#1a1a1a" stroke="#1a1a1a" stroke-width="0.25">T cell</text>
<rect x="62.40" y="616.40" width="14.70" height="6.90" fill="#34833a"/>
<text x="85.90" y="623.80" font-size="12" text-anchor="start" fill="#1a1a1a" stroke="#1a1a1a" stroke-width="0.25">CD30-28z</text>
<rect x="62.40" y="636.00" width="14.70" height="6.90" fill="#8e2824"/>
<text x="85.90" y="643.60" font-size="12" text-anchor="start" fill="#1a1a1a" stroke="#1a1a1a" stroke-width="0.25">CD30-28BBz</text>
<text x="0" y="0" font-size="12.5" text-anchor="middle" fill="#1a1a1a" stroke="#1a1a1a" stroke-width="0.25" transform="translate(31.40 675.40) rotate(-90)">Specific Lysis %</text>
<line x1="335.40" y1="712.45" x2="335.40" y2="701.91" stroke="#1a1a1a" stroke-width="1.5"/>
<line x1="332.00" y1="701.91" x2="338.80" y2="701.91" stroke="#1a1a1a" stroke-width="1.5"/>
<rect x="328.90" y="712.45" width="13.00" height="28.35" fill="#0d0d0d"/>
<line x1="355.90" y1="720.08" x2="355.90" y2="716.81" stroke="#34833a" stroke-width="1.5"/>
<line x1="352.50" y1="716.81" x2="359.30" y2="716.81" stroke="#34833a" stroke-width="1.5"/>
<rect x="349.40" y="720.08" width="13.00" height="20.72" fill="#34833a"/>
<line x1="376.40" y1="712.45" x2="376.40" y2="705.18" stroke="#8e2824" stroke-width="1.5"/>
<line x1="373.00" y1="705.18" x2="379.80" y2="705.18" stroke="#8e2824" stroke-width="1.5"/>
<rect x="369.90" y="712.45" width="13.00" height="28.35" fill="#8e2824"/>
<line x1="410.30" y1="716.81" x2="410.30" y2="700.81" stroke="#1a1a1a" stroke-width="1.5"/>
<line x1="406.90" y1="700.81" x2="413.70" y2="700.81" stroke="#1a1a1a" stroke-width="1.5"/>
<rect x="403.80" y="716.81" width="13.00" height="23.99" fill="#0d0d0d"/>
<line x1="430.80" y1="718.99" x2="430.80" y2="714.63" stroke="#34833a" stroke-width="1.5"/>
<line x1="427.40" y1="714.63" x2="434.20" y2="714.63" stroke="#34833a" stroke-width="1.5"/>
<rect x="424.30" y="718.99" width="13.00" height="21.81" fill="#34833a"/>
<line x1="451.30" y1="701.54" x2="451.30" y2="682.64" stroke="#8e2824" stroke-width="1.5"/>
<line x1="447.90" y1="682.64" x2="454.70" y2="682.64" stroke="#8e2824" stroke-width="1.5"/>
<rect x="444.80" y="701.54" width="13.00" height="39.26" fill="#8e2824"/>
<line x1="485.00" y1="708.81" x2="485.00" y2="703.00" stroke="#1a1a1a" stroke-width="1.5"/>
<line x1="481.60" y1="703.00" x2="488.40" y2="703.00" stroke="#1a1a1a" stroke-width="1.5"/>
<rect x="478.50" y="708.81" width="13.00" height="31.99" fill="#0d0d0d"/>
<line x1="505.50" y1="687.00" x2="505.50" y2="670.28" stroke="#34833a" stroke-width="1.5"/>
<line x1="502.10" y1="670.28" x2="508.90" y2="670.28" stroke="#34833a" stroke-width="1.5"/>
<rect x="499.00" y="687.00" width="13.00" height="53.80" fill="#34833a"/>
<line x1="526.00" y1="692.09" x2="526.00" y2="677.19" stroke="#8e2824" stroke-width="1.5"/>
<line x1="522.60" y1="677.19" x2="529.40" y2="677.19" stroke="#8e2824" stroke-width="1.5"/>
<rect x="519.50" y="692.09" width="13.00" height="48.71" fill="#8e2824"/>
<line x1="321.70" y1="594.80" x2="321.70" y2="741.40" stroke="#1a1a1a" stroke-width="1.4"/>
<line x1="315.10" y1="740.80" x2="321.70" y2="740.80" stroke="#1a1a1a" stroke-width="1.4"/>
<text x="313.50" y="744.79" font-size="10.8" text-anchor="end" fill="#1a1a1a" stroke="#1a1a1a" stroke-width="0.25">0</text>
<line x1="315.10" y1="704.45" x2="321.70" y2="704.45" stroke="#1a1a1a" stroke-width="1.4"/>
<text x="313.50" y="708.44" font-size="10.8" text-anchor="end" fill="#1a1a1a" stroke="#1a1a1a" stroke-width="0.25">5</text>
<line x1="315.10" y1="668.10" x2="321.70" y2="668.10" stroke="#1a1a1a" stroke-width="1.4"/>
<text x="313.50" y="672.09" font-size="10.8" text-anchor="end" fill="#1a1a1a" stroke="#1a1a1a" stroke-width="0.25">10</text>
<line x1="315.10" y1="631.75" x2="321.70" y2="631.75" stroke="#1a1a1a" stroke-width="1.4"/>
<text x="313.50" y="635.74" font-size="10.8" text-anchor="end" fill="#1a1a1a" stroke="#1a1a1a" stroke-width="0.25">15</text>
<line x1="315.10" y1="595.40" x2="321.70" y2="595.40" stroke="#1a1a1a" stroke-width="1.4"/>
<text x="313.50" y="599.39" font-size="10.8" text-anchor="end" fill="#1a1a1a" stroke="#1a1a1a" stroke-width="0.25">20</text>
<line x1="321.10" y1="740.80" x2="540.80" y2="740.80" stroke="#1a1a1a" stroke-width="1.4"/>
<line x1="355.80" y1="740.80" x2="355.80" y2="746.80" stroke="#1a1a1a" stroke-width="1.4"/>
<text x="355.80" y="758.30" font-size="11.5" text-anchor="middle" fill="#1a1a1a" stroke="#1a1a1a" stroke-width="0.25">1</text>
<line x1="430.50" y1="740.80" x2="430.50" y2="746.80" stroke="#1a1a1a" stroke-width="1.4"/>
<text x="430.50" y="758.30" font-size="11.5" text-anchor="middle" fill="#1a1a1a" stroke="#1a1a1a" stroke-width="0.25">5</text>
<line x1="505.50" y1="740.80" x2="505.50" y2="746.80" stroke="#1a1a1a" stroke-width="1.4"/>
<text x="505.50" y="758.30" font-size="11.5" text-anchor="middle" fill="#1a1a1a" stroke="#1a1a1a" stroke-width="0.25">25</text>
<text x="431.90" y="587.60" font-size="8.4" text-anchor="middle" font-weight="bold" fill="#1a1a1a" stroke="#1a1a1a" stroke-width="0.25" style="white-space:pre">CD30- Jurkat</text>
<rect x="327.80" y="594.80" width="15.40" height="6.80" fill="#0d0d0d"/>
<text x="352.30" y="601.20" font-size="12" text-anchor="start" fill="#1a1a1a" stroke="#1a1a1a" stroke-width="0.25" letter-spacing="0.4" word-spacing="2">T cell</text>
<rect x="327.80" y="609.00" width="15.40" height="6.80" fill="#34833a"/>
<text x="352.30" y="616.80" font-size="12" text-anchor="start" fill="#1a1a1a" stroke="#1a1a1a" stroke-width="0.25">CD30-28z</text>
<rect x="327.80" y="624.30" width="15.40" height="6.80" fill="#8e2824"/>
<text x="352.30" y="632.30" font-size="12" text-anchor="start" fill="#1a1a1a" stroke="#1a1a1a" stroke-width="0.25">CD30-28BBz</text>
<text x="0" y="0" font-size="12.5" text-anchor="middle" fill="#1a1a1a" stroke="#1a1a1a" stroke-width="0.25" transform="translate(295.40 673.60) rotate(-90)">Specific Lysis %</text>
<line x1="593.10" y1="711.48" x2="593.10" y2="694.74" stroke="#1a1a1a" stroke-width="1.5"/>
<line x1="589.70" y1="694.74" x2="596.50" y2="694.74" stroke="#1a1a1a" stroke-width="1.5"/>
<rect x="586.60" y="711.48" width="13.00" height="29.12" fill="#0d0d0d"/>
<line x1="613.60" y1="723.49" x2="613.60" y2="710.02" stroke="#34833a" stroke-width="1.5"/>
<line x1="610.20" y1="710.02" x2="617.00" y2="710.02" stroke="#34833a" stroke-width="1.5"/>
<rect x="607.10" y="723.49" width="13.00" height="17.11" fill="#34833a"/>
<line x1="634.10" y1="723.13" x2="634.10" y2="711.48" stroke="#8e2824" stroke-width="1.5"/>
<line x1="630.70" y1="711.48" x2="637.50" y2="711.48" stroke="#8e2824" stroke-width="1.5"/>
<rect x="627.60" y="723.13" width="13.00" height="17.47" fill="#8e2824"/>
<line x1="667.80" y1="716.94" x2="667.80" y2="707.84" stroke="#1a1a1a" stroke-width="1.5"/>
<line x1="664.40" y1="707.84" x2="671.20" y2="707.84" stroke="#1a1a1a" stroke-width="1.5"/>
<rect x="661.30" y="716.94" width="13.00" height="23.66" fill="#0d0d0d"/>
<line x1="688.30" y1="719.49" x2="688.30" y2="710.75" stroke="#34833a" stroke-width="1.5"/>
<line x1="684.90" y1="710.75" x2="691.70" y2="710.75" stroke="#34833a" stroke-width="1.5"/>
<rect x="681.80" y="719.49" width="13.00" height="21.11" fill="#34833a"/>
<line x1="708.80" y1="719.85" x2="708.80" y2="711.48" stroke="#8e2824" stroke-width="1.5"/>
<line x1="705.40" y1="711.48" x2="712.20" y2="711.48" stroke="#8e2824" stroke-width="1.5"/>
<rect x="702.30" y="719.85" width="13.00" height="20.75" fill="#8e2824"/>
<line x1="742.50" y1="716.94" x2="742.50" y2="703.47" stroke="#1a1a1a" stroke-width="1.5"/>
<line x1="739.10" y1="703.47" x2="745.90" y2="703.47" stroke="#1a1a1a" stroke-width="1.5"/>
<rect x="736.00" y="716.94" width="13.00" height="23.66" fill="#0d0d0d"/>
<line x1="763.00" y1="703.11" x2="763.00" y2="689.64" stroke="#34833a" stroke-width="1.5"/>
<line x1="759.60" y1="689.64" x2="766.40" y2="689.64" stroke="#34833a" stroke-width="1.5"/>
<rect x="756.50" y="703.11" width="13.00" height="37.49" fill="#34833a"/>
<line x1="783.50" y1="700.92" x2="783.50" y2="691.82" stroke="#8e2824" stroke-width="1.5"/>
<line x1="780.10" y1="691.82" x2="786.90" y2="691.82" stroke="#8e2824" stroke-width="1.5"/>
<rect x="777.00" y="700.92" width="13.00" height="39.68" fill="#8e2824"/>
<line x1="578.60" y1="594.40" x2="578.60" y2="741.20" stroke="#1a1a1a" stroke-width="1.4"/>
<line x1="572.00" y1="740.60" x2="578.60" y2="740.60" stroke="#1a1a1a" stroke-width="1.4"/>
<text x="570.40" y="744.59" font-size="10.8" text-anchor="end" fill="#1a1a1a" stroke="#1a1a1a" stroke-width="0.25">0</text>
<line x1="572.00" y1="704.20" x2="578.60" y2="704.20" stroke="#1a1a1a" stroke-width="1.4"/>
<text x="570.40" y="708.19" font-size="10.8" text-anchor="end" fill="#1a1a1a" stroke="#1a1a1a" stroke-width="0.25">5</text>
<line x1="572.00" y1="667.80" x2="578.60" y2="667.80" stroke="#1a1a1a" stroke-width="1.4"/>
<text x="570.40" y="671.79" font-size="10.8" text-anchor="end" fill="#1a1a1a" stroke="#1a1a1a" stroke-width="0.25">10</text>
<line x1="572.00" y1="631.40" x2="578.60" y2="631.40" stroke="#1a1a1a" stroke-width="1.4"/>
<text x="570.40" y="635.39" font-size="10.8" text-anchor="end" fill="#1a1a1a" stroke="#1a1a1a" stroke-width="0.25">15</text>
<line x1="572.00" y1="595.00" x2="578.60" y2="595.00" stroke="#1a1a1a" stroke-width="1.4"/>
<text x="570.40" y="598.99" font-size="10.8" text-anchor="end" fill="#1a1a1a" stroke="#1a1a1a" stroke-width="0.25">20</text>
<line x1="578.00" y1="740.60" x2="797.70" y2="740.60" stroke="#1a1a1a" stroke-width="1.4"/>
<line x1="612.50" y1="740.60" x2="612.50" y2="746.60" stroke="#1a1a1a" stroke-width="1.4"/>
<text x="612.50" y="758.10" font-size="11.5" text-anchor="middle" fill="#1a1a1a" stroke="#1a1a1a" stroke-width="0.25">1</text>
<line x1="687.60" y1="740.60" x2="687.60" y2="746.60" stroke="#1a1a1a" stroke-width="1.4"/>
<text x="687.60" y="758.10" font-size="11.5" text-anchor="middle" fill="#1a1a1a" stroke="#1a1a1a" stroke-width="0.25">5</text>
<line x1="763.00" y1="740.60" x2="763.00" y2="746.60" stroke="#1a1a1a" stroke-width="1.4"/>
<text x="763.00" y="758.10" font-size="11.5" text-anchor="middle" fill="#1a1a1a" stroke="#1a1a1a" stroke-width="0.25">25</text>
<text x="674.80" y="586.90" font-size="8.4" text-anchor="middle" font-weight="bold" fill="#1a1a1a" stroke="#1a1a1a" stroke-width="0.25" style="white-space:pre">CD30- K562</text>
<rect x="588.70" y="593.30" width="15.00" height="7.00" fill="#0d0d0d"/>
<text x="612.70" y="600.80" font-size="12" text-anchor="start" fill="#1a1a1a" stroke="#1a1a1a" stroke-width="0.25" letter-spacing="0.4" word-spacing="2">T cell</text>
<rect x="588.70" y="612.80" width="15.00" height="7.00" fill="#34833a"/>
<text x="612.70" y="619.20" font-size="12" text-anchor="start" fill="#1a1a1a" stroke="#1a1a1a" stroke-width="0.25">CD30-28z</text>
<rect x="588.70" y="631.20" width="15.00" height="7.00" fill="#8e2824"/>
<text x="612.70" y="638.30" font-size="12" text-anchor="start" fill="#1a1a1a" stroke="#1a1a1a" stroke-width="0.25">CD30-28BBz</text>
<text x="0" y="0" font-size="12.5" text-anchor="middle" fill="#1a1a1a" stroke="#1a1a1a" stroke-width="0.25" transform="translate(553.40 673.30) rotate(-90)">Specific Lysis %</text>
<text x="-0.30" y="791.70" font-size="19.8" text-anchor="start" fill="#1a1a1a" stroke="#1a1a1a" stroke-width="0.25">G</text>
<line x1="69.50" y1="939.57" x2="69.50" y2="935.00" stroke="#1a1a1a" stroke-width="1.5"/>
<line x1="66.10" y1="935.00" x2="72.90" y2="935.00" stroke="#1a1a1a" stroke-width="1.5"/>
<rect x="63.00" y="939.57" width="13.00" height="8.23" fill="#0d0d0d"/>
<line x1="90.00" y1="930.42" x2="90.00" y2="926.77" stroke="#34833a" stroke-width="1.5"/>
<line x1="86.60" y1="926.77" x2="93.40" y2="926.77" stroke="#34833a" stroke-width="1.5"/>
<rect x="83.50" y="930.42" width="13.00" height="17.38" fill="#34833a"/>
<line x1="110.50" y1="929.51" x2="110.50" y2="925.85" stroke="#8e2824" stroke-width="1.5"/>
<line x1="107.10" y1="925.85" x2="113.90" y2="925.85" stroke="#8e2824" stroke-width="1.5"/>
<rect x="104.00" y="929.51" width="13.00" height="18.29" fill="#8e2824"/>
<line x1="144.10" y1="945.97" x2="144.10" y2="943.78" stroke="#1a1a1a" stroke-width="1.5"/>
<line x1="140.70" y1="943.78" x2="147.50" y2="943.78" stroke="#1a1a1a" stroke-width="1.5"/>
<rect x="137.60" y="945.97" width="13.00" height="1.83" fill="#0d0d0d"/>
<line x1="164.60" y1="902.26" x2="164.60" y2="898.05" stroke="#34833a" stroke-width="1.5"/>
<line x1="161.20" y1="898.05" x2="168.00" y2="898.05" stroke="#34833a" stroke-width="1.5"/>
<rect x="158.10" y="902.26" width="13.00" height="45.54" fill="#34833a"/>
<line x1="185.10" y1="906.10" x2="185.10" y2="902.62" stroke="#8e2824" stroke-width="1.5"/>
<line x1="181.70" y1="902.62" x2="188.50" y2="902.62" stroke="#8e2824" stroke-width="1.5"/>
<rect x="178.60" y="906.10" width="13.00" height="41.70" fill="#8e2824"/>
<line x1="219.00" y1="944.51" x2="219.00" y2="939.39" stroke="#1a1a1a" stroke-width="1.5"/>
<line x1="215.60" y1="939.39" x2="222.40" y2="939.39" stroke="#1a1a1a" stroke-width="1.5"/>
<rect x="212.50" y="944.51" width="13.00" height="3.29" fill="#0d0d0d"/>
<line x1="239.50" y1="838.43" x2="239.50" y2="837.15" stroke="#34833a" stroke-width="1.5"/>
<line x1="236.10" y1="837.15" x2="242.90" y2="837.15" stroke="#34833a" stroke-width="1.5"/>
<rect x="233.00" y="838.43" width="13.00" height="109.37" fill="#34833a"/>
<line x1="260.00" y1="835.68" x2="260.00" y2="830.38" stroke="#8e2824" stroke-width="1.5"/>
<line x1="256.60" y1="830.38" x2="263.40" y2="830.38" stroke="#8e2824" stroke-width="1.5"/>
<rect x="253.50" y="835.68" width="13.00" height="112.12" fill="#8e2824"/>
<line x1="55.20" y1="800.88" x2="55.20" y2="948.40" stroke="#1a1a1a" stroke-width="1.4"/>
<line x1="48.60" y1="947.80" x2="55.20" y2="947.80" stroke="#1a1a1a" stroke-width="1.4"/>
<text x="47.00" y="951.79" font-size="10.8" text-anchor="end" fill="#1a1a1a" stroke="#1a1a1a" stroke-width="0.25">0</text>
<line x1="48.60" y1="911.22" x2="55.20" y2="911.22" stroke="#1a1a1a" stroke-width="1.4"/>
<text x="47.00" y="915.21" font-size="10.8" text-anchor="end" fill="#1a1a1a" stroke="#1a1a1a" stroke-width="0.25">20</text>
<line x1="48.60" y1="874.64" x2="55.20" y2="874.64" stroke="#1a1a1a" stroke-width="1.4"/>
<text x="47.00" y="878.63" font-size="10.8" text-anchor="end" fill="#1a1a1a" stroke="#1a1a1a" stroke-width="0.25">40</text>
<line x1="48.60" y1="838.06" x2="55.20" y2="838.06" stroke="#1a1a1a" stroke-width="1.4"/>
<text x="47.00" y="842.05" font-size="10.8" text-anchor="end" fill="#1a1a1a" stroke="#1a1a1a" stroke-width="0.25">60</text>
<line x1="48.60" y1="801.48" x2="55.20" y2="801.48" stroke="#1a1a1a" stroke-width="1.4"/>
<text x="47.00" y="805.47" font-size="10.8" text-anchor="end" fill="#1a1a1a" stroke="#1a1a1a" stroke-width="0.25">80</text>
<line x1="54.60" y1="947.80" x2="274.80" y2="947.80" stroke="#1a1a1a" stroke-width="1.4"/>
<line x1="90.40" y1="947.80" x2="90.40" y2="953.80" stroke="#1a1a1a" stroke-width="1.4"/>
<text x="90.40" y="965.30" font-size="11.5" text-anchor="middle" fill="#1a1a1a" stroke="#1a1a1a" stroke-width="0.25">1</text>
<line x1="164.50" y1="947.80" x2="164.50" y2="953.80" stroke="#1a1a1a" stroke-width="1.4"/>
<text x="164.50" y="965.30" font-size="11.5" text-anchor="middle" fill="#1a1a1a" stroke="#1a1a1a" stroke-width="0.25">5</text>
<line x1="239.00" y1="947.80" x2="239.00" y2="953.80" stroke="#1a1a1a" stroke-width="1.4"/>
<text x="239.00" y="965.30" font-size="11.5" text-anchor="middle" fill="#1a1a1a" stroke="#1a1a1a" stroke-width="0.25">25</text>
<text x="150.70" y="791.30" font-size="8.4" text-anchor="middle" font-weight="bold" fill="#1a1a1a" stroke="#1a1a1a" stroke-width="0.25" style="white-space:pre">CD30+  L428</text>
<rect x="65.30" y="801.50" width="15.00" height="6.60" fill="#0d0d0d"/>
<text x="83.20" y="808.10" font-size="12" text-anchor="start" fill="#1a1a1a" stroke="#1a1a1a" stroke-width="0.25">T cell</text>
<rect x="65.30" y="816.90" width="15.00" height="6.60" fill="#34833a"/>
<text x="82.80" y="823.20" font-size="12" text-anchor="start" fill="#1a1a1a" stroke="#1a1a1a" stroke-width="0.25">CD30-28z</text>
<rect x="65.30" y="831.30" width="15.00" height="6.60" fill="#8e2824"/>
<text x="81.50" y="836.90" font-size="12" text-anchor="start" fill="#1a1a1a" stroke="#1a1a1a" stroke-width="0.25">CD30-28BBz</text>
<text x="0" y="0" font-size="12.5" text-anchor="middle" fill="#1a1a1a" stroke="#1a1a1a" stroke-width="0.25" transform="translate(28.60 881.90) rotate(-90)">Specific Lysis %</text>
<path d="M142.80 934.30 L142.80 885.50 L164.70 885.50 L164.70 894.80" fill="none" stroke="#1a1a1a" stroke-width="1.4" stroke-linejoin="miter"/>
<text x="153.95" y="887.80" font-size="12" text-anchor="middle" fill="#1a1a1a" stroke="#1a1a1a" stroke-width="0.25" letter-spacing="0.9">***</text>
<path d="M163.80 870.40 L163.80 861.60 L185.00 861.60 L185.00 878.90" fill="none" stroke="#1a1a1a" stroke-width="1.4" stroke-linejoin="miter"/>
<text x="174.50" y="856.40" font-size="11.2" text-anchor="middle" fill="#1a1a1a" stroke="#1a1a1a" stroke-width="0.25">ns</text>
<path d="M147.30 862.00 L147.30 839.80 L184.00 839.80 L184.00 848.80" fill="none" stroke="#1a1a1a" stroke-width="1.4" stroke-linejoin="miter"/>
<text x="164.85" y="836.70" font-size="12" text-anchor="middle" fill="#1a1a1a" stroke="#1a1a1a" stroke-width="0.25" letter-spacing="0.9">***</text>
<path d="M218.80 898.60 L218.80 828.60 L239.80 828.60 L239.80 834.80" fill="none" stroke="#1a1a1a" stroke-width="1.4" stroke-linejoin="miter"/>
<text x="230.85" y="829.20" font-size="12" text-anchor="middle" fill="#1a1a1a" stroke="#1a1a1a" stroke-width="0.25" letter-spacing="0.9">***</text>
<path d="M239.40 813.60 L239.40 804.70 L259.90 804.70 L259.90 826.30" fill="none" stroke="#1a1a1a" stroke-width="1.4" stroke-linejoin="miter"/>
<text x="249.20" y="799.00" font-size="11.2" text-anchor="middle" fill="#1a1a1a" stroke="#1a1a1a" stroke-width="0.25">ns</text>
<path d="M223.30 806.60 L223.30 784.50 L259.90 784.50 L259.90 793.50" fill="none" stroke="#1a1a1a" stroke-width="1.4" stroke-linejoin="miter"/>
<text x="242.45" y="786.00" font-size="12" text-anchor="middle" fill="#1a1a1a" stroke="#1a1a1a" stroke-width="0.25" letter-spacing="0.9">***</text>
<text x="164.40" y="984.00" font-size="13.8" text-anchor="middle" fill="#1a1a1a" stroke="#1a1a1a" stroke-width="0.25">E:T</text>
<line x1="335.40" y1="938.09" x2="335.40" y2="930.82" stroke="#1a1a1a" stroke-width="1.5"/>
<line x1="332.00" y1="930.82" x2="338.80" y2="930.82" stroke="#1a1a1a" stroke-width="1.5"/>
<rect x="328.90" y="938.09" width="13.00" height="9.31" fill="#0d0d0d"/>
<line x1="355.90" y1="928.79" x2="355.90" y2="922.68" stroke="#34833a" stroke-width="1.5"/>
<line x1="352.50" y1="922.68" x2="359.30" y2="922.68" stroke="#34833a" stroke-width="1.5"/>
<rect x="349.40" y="928.79" width="13.00" height="18.61" fill="#34833a"/>
<line x1="376.40" y1="928.79" x2="376.40" y2="918.90" stroke="#8e2824" stroke-width="1.5"/>
<line x1="373.00" y1="918.90" x2="379.80" y2="918.90" stroke="#8e2824" stroke-width="1.5"/>
<rect x="369.90" y="928.79" width="13.00" height="18.61" fill="#8e2824"/>
<line x1="410.70" y1="938.09" x2="410.70" y2="929.37" stroke="#1a1a1a" stroke-width="1.5"/>
<line x1="407.30" y1="929.37" x2="414.10" y2="929.37" stroke="#1a1a1a" stroke-width="1.5"/>
<rect x="404.20" y="938.09" width="13.00" height="9.31" fill="#0d0d0d"/>
<line x1="431.20" y1="924.14" x2="431.20" y2="906.69" stroke="#34833a" stroke-width="1.5"/>
<line x1="427.80" y1="906.69" x2="434.60" y2="906.69" stroke="#34833a" stroke-width="1.5"/>
<rect x="424.70" y="924.14" width="13.00" height="23.26" fill="#34833a"/>
<line x1="451.70" y1="912.50" x2="451.70" y2="895.93" stroke="#8e2824" stroke-width="1.5"/>
<line x1="448.30" y1="895.93" x2="455.10" y2="895.93" stroke="#8e2824" stroke-width="1.5"/>
<rect x="445.20" y="912.50" width="13.00" height="34.90" fill="#8e2824"/>
<line x1="485.70" y1="934.31" x2="485.70" y2="932.57" stroke="#1a1a1a" stroke-width="1.5"/>
<line x1="482.30" y1="932.57" x2="489.10" y2="932.57" stroke="#1a1a1a" stroke-width="1.5"/>
<rect x="479.20" y="934.31" width="13.00" height="13.09" fill="#0d0d0d"/>
<line x1="506.20" y1="865.10" x2="506.20" y2="855.22" stroke="#34833a" stroke-width="1.5"/>
<line x1="502.80" y1="855.22" x2="509.60" y2="855.22" stroke="#34833a" stroke-width="1.5"/>
<rect x="499.70" y="865.10" width="13.00" height="82.30" fill="#34833a"/>
<line x1="526.70" y1="857.25" x2="526.70" y2="835.15" stroke="#8e2824" stroke-width="1.5"/>
<line x1="523.30" y1="835.15" x2="530.10" y2="835.15" stroke="#8e2824" stroke-width="1.5"/>
<rect x="520.20" y="857.25" width="13.00" height="90.15" fill="#8e2824"/>
<line x1="321.90" y1="801.40" x2="321.90" y2="948.00" stroke="#1a1a1a" stroke-width="1.4"/>
<line x1="315.30" y1="947.40" x2="321.90" y2="947.40" stroke="#1a1a1a" stroke-width="1.4"/>
<text x="313.70" y="951.39" font-size="10.8" text-anchor="end" fill="#1a1a1a" stroke="#1a1a1a" stroke-width="0.25">0</text>
<line x1="315.30" y1="918.32" x2="321.90" y2="918.32" stroke="#1a1a1a" stroke-width="1.4"/>
<text x="313.70" y="922.31" font-size="10.8" text-anchor="end" fill="#1a1a1a" stroke="#1a1a1a" stroke-width="0.25">10</text>
<line x1="315.30" y1="889.24" x2="321.90" y2="889.24" stroke="#1a1a1a" stroke-width="1.4"/>
<text x="313.70" y="893.23" font-size="10.8" text-anchor="end" fill="#1a1a1a" stroke="#1a1a1a" stroke-width="0.25">20</text>
<line x1="315.30" y1="860.16" x2="321.90" y2="860.16" stroke="#1a1a1a" stroke-width="1.4"/>
<text x="313.70" y="864.15" font-size="10.8" text-anchor="end" fill="#1a1a1a" stroke="#1a1a1a" stroke-width="0.25">30</text>
<line x1="315.30" y1="831.08" x2="321.90" y2="831.08" stroke="#1a1a1a" stroke-width="1.4"/>
<text x="313.70" y="835.07" font-size="10.8" text-anchor="end" fill="#1a1a1a" stroke="#1a1a1a" stroke-width="0.25">40</text>
<line x1="315.30" y1="802.00" x2="321.90" y2="802.00" stroke="#1a1a1a" stroke-width="1.4"/>
<text x="313.70" y="805.99" font-size="10.8" text-anchor="end" fill="#1a1a1a" stroke="#1a1a1a" stroke-width="0.25">50</text>
<line x1="321.30" y1="947.40" x2="541.50" y2="947.40" stroke="#1a1a1a" stroke-width="1.4"/>
<line x1="355.80" y1="947.40" x2="355.80" y2="953.40" stroke="#1a1a1a" stroke-width="1.4"/>
<text x="355.80" y="964.90" font-size="11.5" text-anchor="middle" fill="#1a1a1a" stroke="#1a1a1a" stroke-width="0.25">1</text>
<line x1="430.10" y1="947.40" x2="430.10" y2="953.40" stroke="#1a1a1a" stroke-width="1.4"/>
<text x="430.10" y="964.90" font-size="11.5" text-anchor="middle" fill="#1a1a1a" stroke="#1a1a1a" stroke-width="0.25">5</text>
<line x1="505.80" y1="947.40" x2="505.80" y2="953.40" stroke="#1a1a1a" stroke-width="1.4"/>
<text x="505.80" y="964.90" font-size="11.5" text-anchor="middle" fill="#1a1a1a" stroke="#1a1a1a" stroke-width="0.25">25</text>
<text x="431.20" y="791.30" font-size="8.4" text-anchor="middle" font-weight="bold" fill="#1a1a1a" stroke="#1a1a1a" stroke-width="0.25" style="white-space:pre">CD30+  L540</text>
<rect x="327.80" y="801.00" width="15.50" height="7.10" fill="#0d0d0d"/>
<text x="352.00" y="808.50" font-size="12" text-anchor="start" fill="#1a1a1a" stroke="#1a1a1a" stroke-width="0.25" letter-spacing="0.4" word-spacing="2">T cell</text>
<rect x="327.80" y="814.20" width="15.50" height="7.10" fill="#34833a"/>
<text x="352.00" y="822.30" font-size="12" text-anchor="start" fill="#1a1a1a" stroke="#1a1a1a" stroke-width="0.25">CD30-28z</text>
<rect x="327.80" y="828.80" width="15.50" height="7.10" fill="#8e2824"/>
<text x="352.00" y="835.80" font-size="12" text-anchor="start" fill="#1a1a1a" stroke="#1a1a1a" stroke-width="0.25">CD30-28BBz</text>
<text x="0" y="0" font-size="12.5" text-anchor="middle" fill="#1a1a1a" stroke="#1a1a1a" stroke-width="0.25" transform="translate(295.00 881.70) rotate(-90)">Specific Lysis %</text>
<path d="M485.10 920.90 L485.10 846.30 L506.50 846.30 L506.50 854.30" fill="none" stroke="#1a1a1a" stroke-width="1.4" stroke-linejoin="miter"/>
<text x="496.45" y="846.60" font-size="12" text-anchor="middle" fill="#1a1a1a" stroke="#1a1a1a" stroke-width="0.25" letter-spacing="0.9">***</text>
<path d="M506.50 831.60 L506.50 821.80 L526.80 821.80 L526.80 835.10" fill="none" stroke="#1a1a1a" stroke-width="1.4" stroke-linejoin="miter"/>
<text x="516.30" y="815.80" font-size="11.2" text-anchor="middle" fill="#1a1a1a" stroke="#1a1a1a" stroke-width="0.25">ns</text>
<path d="M485.10 829.80 L485.10 801.80 L526.80 801.80 L526.80 810.50" fill="none" stroke="#1a1a1a" stroke-width="1.4" stroke-linejoin="miter"/>
<text x="506.25" y="801.80" font-size="12" text-anchor="middle" fill="#1a1a1a" stroke="#1a1a1a" stroke-width="0.25" letter-spacing="0.9">***</text>
<text x="431.00" y="983.80" font-size="13.8" text-anchor="middle" fill="#1a1a1a" stroke="#1a1a1a" stroke-width="0.25">E:T</text>
<rect x="585.30" y="945.07" width="13.00" height="0.73" fill="#0d0d0d"/>
<line x1="612.30" y1="936.28" x2="612.30" y2="927.99" stroke="#34833a" stroke-width="1.5"/>
<line x1="608.90" y1="927.99" x2="615.70" y2="927.99" stroke="#34833a" stroke-width="1.5"/>
<rect x="605.80" y="936.28" width="13.00" height="9.52" fill="#34833a"/>
<line x1="632.80" y1="935.55" x2="632.80" y2="928.72" stroke="#8e2824" stroke-width="1.5"/>
<line x1="629.40" y1="928.72" x2="636.20" y2="928.72" stroke="#8e2824" stroke-width="1.5"/>
<rect x="626.30" y="935.55" width="13.00" height="10.25" fill="#8e2824"/>
<line x1="667.10" y1="936.53" x2="667.10" y2="931.16" stroke="#1a1a1a" stroke-width="1.5"/>
<line x1="663.70" y1="931.16" x2="670.50" y2="931.16" stroke="#1a1a1a" stroke-width="1.5"/>
<rect x="660.60" y="936.53" width="13.00" height="9.27" fill="#0d0d0d"/>
<line x1="687.60" y1="898.71" x2="687.60" y2="895.78" stroke="#34833a" stroke-width="1.5"/>
<line x1="684.20" y1="895.78" x2="691.00" y2="895.78" stroke="#34833a" stroke-width="1.5"/>
<rect x="681.10" y="898.71" width="13.00" height="47.09" fill="#34833a"/>
<line x1="708.10" y1="906.27" x2="708.10" y2="900.90" stroke="#8e2824" stroke-width="1.5"/>
<line x1="704.70" y1="900.90" x2="711.50" y2="900.90" stroke="#8e2824" stroke-width="1.5"/>
<rect x="701.60" y="906.27" width="13.00" height="39.53" fill="#8e2824"/>
<line x1="741.90" y1="923.84" x2="741.90" y2="921.40" stroke="#1a1a1a" stroke-width="1.5"/>
<line x1="738.50" y1="921.40" x2="745.30" y2="921.40" stroke="#1a1a1a" stroke-width="1.5"/>
<rect x="735.40" y="923.84" width="13.00" height="21.96" fill="#0d0d0d"/>
<line x1="762.40" y1="829.17" x2="762.40" y2="823.56" stroke="#34833a" stroke-width="1.5"/>
<line x1="759.00" y1="823.56" x2="765.80" y2="823.56" stroke="#34833a" stroke-width="1.5"/>
<rect x="755.90" y="829.17" width="13.00" height="116.63" fill="#34833a"/>
<line x1="782.90" y1="826.97" x2="782.90" y2="818.19" stroke="#8e2824" stroke-width="1.5"/>
<line x1="779.50" y1="818.19" x2="786.30" y2="818.19" stroke="#8e2824" stroke-width="1.5"/>
<rect x="776.40" y="826.97" width="13.00" height="118.83" fill="#8e2824"/>
<line x1="577.80" y1="798.80" x2="577.80" y2="946.40" stroke="#1a1a1a" stroke-width="1.4"/>
<line x1="571.20" y1="945.80" x2="577.80" y2="945.80" stroke="#1a1a1a" stroke-width="1.4"/>
<text x="569.60" y="949.79" font-size="10.8" text-anchor="end" fill="#1a1a1a" stroke="#1a1a1a" stroke-width="0.25">0</text>
<line x1="571.20" y1="897.00" x2="577.80" y2="897.00" stroke="#1a1a1a" stroke-width="1.4"/>
<text x="569.60" y="900.99" font-size="10.8" text-anchor="end" fill="#1a1a1a" stroke="#1a1a1a" stroke-width="0.25">20</text>
<line x1="571.20" y1="848.20" x2="577.80" y2="848.20" stroke="#1a1a1a" stroke-width="1.4"/>
<text x="569.60" y="852.19" font-size="10.8" text-anchor="end" fill="#1a1a1a" stroke="#1a1a1a" stroke-width="0.25">40</text>
<line x1="571.20" y1="799.40" x2="577.80" y2="799.40" stroke="#1a1a1a" stroke-width="1.4"/>
<text x="569.60" y="803.39" font-size="10.8" text-anchor="end" fill="#1a1a1a" stroke="#1a1a1a" stroke-width="0.25">60</text>
<line x1="577.20" y1="945.80" x2="796.00" y2="945.80" stroke="#1a1a1a" stroke-width="1.4"/>
<line x1="611.80" y1="945.80" x2="611.80" y2="951.80" stroke="#1a1a1a" stroke-width="1.4"/>
<text x="611.80" y="963.30" font-size="11.5" text-anchor="middle" fill="#1a1a1a" stroke="#1a1a1a" stroke-width="0.25">1</text>
<line x1="686.60" y1="945.80" x2="686.60" y2="951.80" stroke="#1a1a1a" stroke-width="1.4"/>
<text x="686.60" y="963.30" font-size="11.5" text-anchor="middle" fill="#1a1a1a" stroke="#1a1a1a" stroke-width="0.25">5</text>
<line x1="761.60" y1="945.80" x2="761.60" y2="951.80" stroke="#1a1a1a" stroke-width="1.4"/>
<text x="761.60" y="963.30" font-size="11.5" text-anchor="middle" fill="#1a1a1a" stroke="#1a1a1a" stroke-width="0.25">25</text>
<text x="688.20" y="791.30" font-size="8.4" text-anchor="middle" font-weight="bold" fill="#1a1a1a" stroke="#1a1a1a" stroke-width="0.25" style="white-space:pre">CD30+  K562-CD30</text>
<rect x="586.80" y="800.30" width="15.40" height="7.00" fill="#0d0d0d"/>
<text x="611.20" y="807.30" font-size="12" text-anchor="start" fill="#1a1a1a" stroke="#1a1a1a" stroke-width="0.25" letter-spacing="0.4" word-spacing="2">T cell</text>
<rect x="586.80" y="817.50" width="15.40" height="7.00" fill="#34833a"/>
<text x="611.20" y="824.30" font-size="12" text-anchor="start" fill="#1a1a1a" stroke="#1a1a1a" stroke-width="0.25">CD30-28z</text>
<rect x="586.80" y="834.80" width="15.40" height="7.00" fill="#8e2824"/>
<text x="611.20" y="841.20" font-size="12" text-anchor="start" fill="#1a1a1a" stroke="#1a1a1a" stroke-width="0.25">CD30-28BBz</text>
<text x="0" y="0" font-size="12.5" text-anchor="middle" fill="#1a1a1a" stroke="#1a1a1a" stroke-width="0.25" transform="translate(550.70 879.60) rotate(-90)">Specific Lysis %</text>
<path d="M741.60 898.00 L741.60 814.40 L761.60 814.40 L761.60 823.20" fill="none" stroke="#1a1a1a" stroke-width="1.4" stroke-linejoin="miter"/>
<text x="751.55" y="815.20" font-size="12" text-anchor="middle" fill="#1a1a1a" stroke="#1a1a1a" stroke-width="0.25" letter-spacing="0.9">***</text>
<path d="M761.60 800.70 L761.60 792.30 L782.50 792.30 L782.50 817.00" fill="none" stroke="#1a1a1a" stroke-width="1.4" stroke-linejoin="miter"/>
<text x="771.90" y="786.10" font-size="11.2" text-anchor="middle" fill="#1a1a1a" stroke="#1a1a1a" stroke-width="0.25">ns</text>
<path d="M741.60 796.00 L741.60 772.50 L782.50 772.50 L782.50 781.00" fill="none" stroke="#1a1a1a" stroke-width="1.4" stroke-linejoin="miter"/>
<text x="761.65" y="775.00" font-size="12" text-anchor="middle" fill="#1a1a1a" stroke="#1a1a1a" stroke-width="0.25" letter-spacing="0.9">***</text>
<text x="686.75" y="981.80" font-size="13.8" text-anchor="middle" fill="#1a1a1a" stroke="#1a1a1a" stroke-width="0.25">E:T</text>
<text x="-0.70" y="983.70" font-size="18.8" text-anchor="start" fill="#1a1a1a" stroke="#1a1a1a" stroke-width="0.25">H</text>
<line x1="99.50" y1="1146.60" x2="99.50" y2="1142.40" stroke="#1a1a1a" stroke-width="1.4"/>
<line x1="93.30" y1="1142.40" x2="105.70" y2="1142.40" stroke="#1a1a1a" stroke-width="1.4"/>
<rect x="88.10" y="1147.20" width="22.80" height="7.80" fill="#3151a9" stroke="#1a1a1a" stroke-width="1.3"/>
<line x1="135.35" y1="1145.30" x2="135.35" y2="1140.35" stroke="#1a1a1a" stroke-width="1.4"/>
<line x1="129.15" y1="1140.35" x2="141.55" y2="1140.35" stroke="#1a1a1a" stroke-width="1.4"/>
<rect x="124.30" y="1145.90" width="22.10" height="9.10" fill="#de321e" stroke="#1a1a1a" stroke-width="1.3"/>
<line x1="195.00" y1="1135.07" x2="195.00" y2="1127.85" stroke="#1a1a1a" stroke-width="1.4"/>
<line x1="188.80" y1="1127.85" x2="201.20" y2="1127.85" stroke="#1a1a1a" stroke-width="1.4"/>
<rect x="183.80" y="1135.67" width="22.40" height="19.33" fill="#3151a9" stroke="#1a1a1a" stroke-width="1.3"/>
<line x1="231.15" y1="1065.48" x2="231.15" y2="1027.66" stroke="#1a1a1a" stroke-width="1.4"/>
<line x1="224.95" y1="1027.66" x2="237.35" y2="1027.66" stroke="#1a1a1a" stroke-width="1.4"/>
<rect x="219.80" y="1066.08" width="22.70" height="88.92" fill="#de321e" stroke="#1a1a1a" stroke-width="1.3"/>
<line x1="291.00" y1="1134.21" x2="291.00" y2="1128.28" stroke="#1a1a1a" stroke-width="1.4"/>
<line x1="284.80" y1="1128.28" x2="297.20" y2="1128.28" stroke="#1a1a1a" stroke-width="1.4"/>
<rect x="280.40" y="1134.81" width="21.20" height="20.19" fill="#3151a9" stroke="#1a1a1a" stroke-width="1.3"/>
<line x1="326.75" y1="1072.05" x2="326.75" y2="1046.19" stroke="#1a1a1a" stroke-width="1.4"/>
<line x1="320.55" y1="1046.19" x2="332.95" y2="1046.19" stroke="#1a1a1a" stroke-width="1.4"/>
<rect x="315.80" y="1072.65" width="21.90" height="82.35" fill="#de321e" stroke="#1a1a1a" stroke-width="1.3"/>
<line x1="69.30" y1="992.80" x2="69.30" y2="1155.60" stroke="#1a1a1a" stroke-width="1.4"/>
<line x1="63.80" y1="1155.00" x2="69.30" y2="1155.00" stroke="#1a1a1a" stroke-width="1.4"/>
<text x="62.80" y="1159.39" font-size="12.2" text-anchor="end" fill="#1a1a1a" stroke="#1a1a1a" stroke-width="0.25">0</text>
<line x1="63.80" y1="1101.13" x2="69.30" y2="1101.13" stroke="#1a1a1a" stroke-width="1.4"/>
<text x="62.80" y="1105.53" font-size="12.2" text-anchor="end" fill="#1a1a1a" stroke="#1a1a1a" stroke-width="0.25">500</text>
<line x1="63.80" y1="1047.27" x2="69.30" y2="1047.27" stroke="#1a1a1a" stroke-width="1.4"/>
<text x="62.80" y="1051.66" font-size="12.2" text-anchor="end" fill="#1a1a1a" stroke="#1a1a1a" stroke-width="0.25">1000</text>
<line x1="63.80" y1="993.40" x2="69.30" y2="993.40" stroke="#1a1a1a" stroke-width="1.4"/>
<text x="62.80" y="997.80" font-size="12.2" text-anchor="end" fill="#1a1a1a" stroke="#1a1a1a" stroke-width="0.25">1500</text>
<line x1="68.70" y1="1155.00" x2="357.90" y2="1155.00" stroke="#1a1a1a" stroke-width="1.4"/>
<line x1="117.20" y1="1155.00" x2="117.20" y2="1160.20" stroke="#1a1a1a" stroke-width="1.4"/>
<line x1="213.00" y1="1155.00" x2="213.00" y2="1160.20" stroke="#1a1a1a" stroke-width="1.4"/>
<line x1="308.70" y1="1155.00" x2="308.70" y2="1160.20" stroke="#1a1a1a" stroke-width="1.4"/>
<text x="116.60" y="1172.50" font-size="12.3" text-anchor="middle" fill="#1a1a1a" stroke="#1a1a1a" stroke-width="0.25">T cell</text>
<text x="210.10" y="1172.50" font-size="12.3" text-anchor="middle" fill="#1a1a1a" stroke="#1a1a1a" stroke-width="0.25">CD30-28z</text>
<text x="311.30" y="1172.50" font-size="12.3" text-anchor="middle" fill="#1a1a1a" stroke="#1a1a1a" stroke-width="0.25">CD30-28BBz</text>
<text x="210.85" y="1017.40" font-size="12" text-anchor="middle" fill="#1a1a1a" stroke="#1a1a1a" stroke-width="0.25" letter-spacing="0.9">***</text>
<text x="309.45" y="1034.70" font-size="12" text-anchor="middle" fill="#1a1a1a" stroke="#1a1a1a" stroke-width="0.25" letter-spacing="0.9">***</text>
<rect x="76.70" y="995.20" width="15.40" height="6.70" fill="#3151a9" stroke="#1a1a1a" stroke-width="1.3"/>
<text x="103.20" y="1003.00" font-size="12" text-anchor="start" fill="#1a1a1a" stroke="#1a1a1a" stroke-width="0.25" letter-spacing="1.6">Raji</text>
<rect x="76.10" y="1013.00" width="16.60" height="7.90" fill="#de321e"/>
<text x="103.20" y="1021.80" font-size="12" text-anchor="start" fill="#1a1a1a" stroke="#1a1a1a" stroke-width="0.25">L428</text>
<text x="0" y="0" font-size="12" text-anchor="middle" fill="#1a1a1a" stroke="#1a1a1a" stroke-width="0.25" transform="translate(32.3 1075.2) rotate(-90)" xml:space="preserve">IFN-γ  (pg/mL)</text>
<rect x="468.10" y="970.00" width="2.80" height="13.75" fill="#1a1a1a"/>
<line x1="536.00" y1="1127.36" x2="536.00" y2="1121.01" stroke="#1a1a1a" stroke-width="1.4"/>
<line x1="529.80" y1="1121.01" x2="542.20" y2="1121.01" stroke="#1a1a1a" stroke-width="1.4"/>
<rect x="524.70" y="1127.96" width="22.60" height="26.64" fill="#3151a9" stroke="#1a1a1a" stroke-width="1.3"/>
<line x1="572.25" y1="1121.01" x2="572.25" y2="1114.45" stroke="#1a1a1a" stroke-width="1.4"/>
<line x1="566.05" y1="1114.45" x2="578.45" y2="1114.45" stroke="#1a1a1a" stroke-width="1.4"/>
<rect x="560.90" y="1121.61" width="22.70" height="32.99" fill="#de321e" stroke="#1a1a1a" stroke-width="1.3"/>
<line x1="632.70" y1="1100.33" x2="632.70" y2="1083.58" stroke="#1a1a1a" stroke-width="1.4"/>
<line x1="626.50" y1="1083.58" x2="638.90" y2="1083.58" stroke="#1a1a1a" stroke-width="1.4"/>
<rect x="621.10" y="1100.93" width="23.20" height="53.67" fill="#3151a9" stroke="#1a1a1a" stroke-width="1.3"/>
<line x1="668.50" y1="1069.87" x2="668.50" y2="1029.51" stroke="#1a1a1a" stroke-width="1.4"/>
<line x1="662.30" y1="1029.51" x2="674.70" y2="1029.51" stroke="#1a1a1a" stroke-width="1.4"/>
<rect x="657.20" y="1070.46" width="22.60" height="84.14" fill="#de321e" stroke="#1a1a1a" stroke-width="1.3"/>
<line x1="728.85" y1="1103.76" x2="728.85" y2="1093.87" stroke="#1a1a1a" stroke-width="1.4"/>
<line x1="722.65" y1="1093.87" x2="735.05" y2="1093.87" stroke="#1a1a1a" stroke-width="1.4"/>
<rect x="717.80" y="1104.36" width="22.10" height="50.24" fill="#3151a9" stroke="#1a1a1a" stroke-width="1.3"/>
<line x1="765.30" y1="1073.09" x2="765.30" y2="1039.80" stroke="#1a1a1a" stroke-width="1.4"/>
<line x1="759.10" y1="1039.80" x2="771.50" y2="1039.80" stroke="#1a1a1a" stroke-width="1.4"/>
<rect x="754.20" y="1073.69" width="22.20" height="80.91" fill="#de321e" stroke="#1a1a1a" stroke-width="1.3"/>
<line x1="505.80" y1="992.60" x2="505.80" y2="1155.20" stroke="#1a1a1a" stroke-width="1.4"/>
<line x1="500.30" y1="1154.60" x2="505.80" y2="1154.60" stroke="#1a1a1a" stroke-width="1.4"/>
<text x="499.50" y="1158.89" font-size="12.2" text-anchor="end" fill="#1a1a1a" stroke="#1a1a1a" stroke-width="0.25">0</text>
<line x1="500.30" y1="1114.25" x2="505.80" y2="1114.25" stroke="#1a1a1a" stroke-width="1.4"/>
<text x="499.50" y="1118.54" font-size="12.2" text-anchor="end" fill="#1a1a1a" stroke="#1a1a1a" stroke-width="0.25">20</text>
<line x1="500.30" y1="1073.90" x2="505.80" y2="1073.90" stroke="#1a1a1a" stroke-width="1.4"/>
<text x="499.50" y="1078.19" font-size="12.2" text-anchor="end" fill="#1a1a1a" stroke="#1a1a1a" stroke-width="0.25">40</text>
<line x1="500.30" y1="1033.55" x2="505.80" y2="1033.55" stroke="#1a1a1a" stroke-width="1.4"/>
<text x="499.50" y="1037.84" font-size="12.2" text-anchor="end" fill="#1a1a1a" stroke="#1a1a1a" stroke-width="0.25">60</text>
<line x1="500.30" y1="993.20" x2="505.80" y2="993.20" stroke="#1a1a1a" stroke-width="1.4"/>
<text x="499.50" y="997.49" font-size="12.2" text-anchor="end" fill="#1a1a1a" stroke="#1a1a1a" stroke-width="0.25">80</text>
<line x1="505.30" y1="1154.60" x2="795.00" y2="1154.60" stroke="#1a1a1a" stroke-width="1.4"/>
<line x1="554.10" y1="1154.60" x2="554.10" y2="1159.80" stroke="#1a1a1a" stroke-width="1.4"/>
<line x1="650.60" y1="1154.60" x2="650.60" y2="1159.80" stroke="#1a1a1a" stroke-width="1.4"/>
<line x1="747.00" y1="1154.60" x2="747.00" y2="1159.80" stroke="#1a1a1a" stroke-width="1.4"/>
<text x="554.10" y="1172.40" font-size="12.2" text-anchor="middle" fill="#1a1a1a" stroke="#1a1a1a" stroke-width="0.25">T cell</text>
<text x="647.00" y="1172.40" font-size="12.2" text-anchor="middle" fill="#1a1a1a" stroke="#1a1a1a" stroke-width="0.25">CD30-28z</text>
<text x="749.40" y="1172.40" font-size="12.2" text-anchor="middle" fill="#1a1a1a" stroke="#1a1a1a" stroke-width="0.25">CD30-28BBz</text>
<rect x="513.00" y="994.60" width="16.20" height="7.60" fill="#3151a9" stroke="#1a1a1a" stroke-width="1.3"/>
<text x="539.60" y="1003.00" font-size="12" text-anchor="start" fill="#1a1a1a" stroke="#1a1a1a" stroke-width="0.25" letter-spacing="1.4">Raji</text>
<rect x="512.80" y="1012.80" width="16.60" height="8.00" fill="#de321e" stroke="#1a1a1a" stroke-width="1.3"/>
<text x="539.60" y="1021.30" font-size="12" text-anchor="start" fill="#1a1a1a" stroke="#1a1a1a" stroke-width="0.25">L428</text>
<text x="0" y="0" font-size="12" text-anchor="middle" fill="#1a1a1a" stroke="#1a1a1a" stroke-width="0.25" transform="translate(480.5 1076.6) rotate(-90)">IL-6(pg/mL)</text>
</svg></body></html>
